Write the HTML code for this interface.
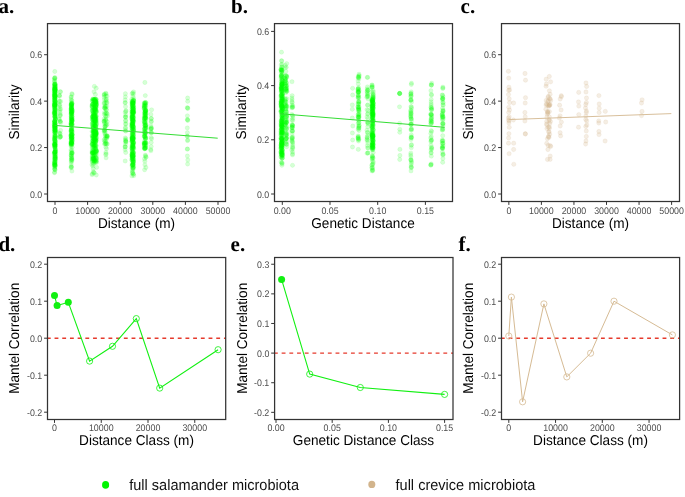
<!DOCTYPE html>
<html><head><meta charset="utf-8"><style>
html,body{margin:0;padding:0;background:#fff;overflow:hidden;}
svg{display:block;font-family:"Liberation Sans",sans-serif;filter:blur(0.35px);}
</style></head><body>
<svg width="685" height="497" viewBox="0 0 685 497" font-family="Liberation Sans, sans-serif" text-rendering="geometricPrecision"><rect width="685" height="497" fill="#fff"/>
<g fill="#00ff00" fill-opacity="0.16" stroke="#00ff00" stroke-opacity="0.16" stroke-width="0.5">
<circle cx="54.5" cy="79.9" r="2.15"/>
<circle cx="54.4" cy="81.9" r="2.15"/>
<circle cx="54.7" cy="81.2" r="2.15"/>
<circle cx="54.9" cy="78.3" r="2.15"/>
<circle cx="54.8" cy="78.2" r="2.15"/>
<circle cx="54.4" cy="78.4" r="2.15"/>
<circle cx="55.3" cy="119.2" r="2.15"/>
<circle cx="54.6" cy="94.3" r="2.15"/>
<circle cx="55.4" cy="136.1" r="2.15"/>
<circle cx="54.8" cy="131.9" r="2.15"/>
<circle cx="54.4" cy="165.0" r="2.15"/>
<circle cx="54.6" cy="155.3" r="2.15"/>
<circle cx="54.4" cy="96.0" r="2.15"/>
<circle cx="55.3" cy="109.6" r="2.15"/>
<circle cx="55.0" cy="99.0" r="2.15"/>
<circle cx="54.7" cy="137.0" r="2.15"/>
<circle cx="54.4" cy="129.5" r="2.15"/>
<circle cx="54.5" cy="88.9" r="2.15"/>
<circle cx="54.8" cy="140.5" r="2.15"/>
<circle cx="55.0" cy="110.1" r="2.15"/>
<circle cx="54.7" cy="121.6" r="2.15"/>
<circle cx="55.1" cy="149.9" r="2.15"/>
<circle cx="55.0" cy="104.3" r="2.15"/>
<circle cx="55.4" cy="127.6" r="2.15"/>
<circle cx="54.6" cy="144.5" r="2.15"/>
<circle cx="54.4" cy="165.4" r="2.15"/>
<circle cx="55.2" cy="118.7" r="2.15"/>
<circle cx="54.9" cy="96.6" r="2.15"/>
<circle cx="55.1" cy="87.3" r="2.15"/>
<circle cx="55.0" cy="147.5" r="2.15"/>
<circle cx="54.7" cy="156.7" r="2.15"/>
<circle cx="55.0" cy="141.7" r="2.15"/>
<circle cx="54.8" cy="132.1" r="2.15"/>
<circle cx="55.4" cy="153.7" r="2.15"/>
<circle cx="55.1" cy="123.4" r="2.15"/>
<circle cx="55.1" cy="89.0" r="2.15"/>
<circle cx="55.5" cy="137.7" r="2.15"/>
<circle cx="54.6" cy="152.2" r="2.15"/>
<circle cx="55.1" cy="116.0" r="2.15"/>
<circle cx="54.9" cy="85.9" r="2.15"/>
<circle cx="54.4" cy="97.9" r="2.15"/>
<circle cx="55.2" cy="88.9" r="2.15"/>
<circle cx="54.6" cy="94.7" r="2.15"/>
<circle cx="55.3" cy="116.4" r="2.15"/>
<circle cx="54.8" cy="90.7" r="2.15"/>
<circle cx="55.4" cy="129.6" r="2.15"/>
<circle cx="55.3" cy="152.0" r="2.15"/>
<circle cx="54.8" cy="107.1" r="2.15"/>
<circle cx="55.4" cy="113.8" r="2.15"/>
<circle cx="54.5" cy="163.5" r="2.15"/>
<circle cx="54.6" cy="98.6" r="2.15"/>
<circle cx="54.9" cy="103.4" r="2.15"/>
<circle cx="54.6" cy="132.9" r="2.15"/>
<circle cx="54.8" cy="84.3" r="2.15"/>
<circle cx="55.0" cy="114.6" r="2.15"/>
<circle cx="55.1" cy="163.1" r="2.15"/>
<circle cx="55.0" cy="126.8" r="2.15"/>
<circle cx="54.4" cy="140.1" r="2.15"/>
<circle cx="55.2" cy="158.7" r="2.15"/>
<circle cx="55.3" cy="156.6" r="2.15"/>
<circle cx="54.8" cy="116.6" r="2.15"/>
<circle cx="55.1" cy="92.6" r="2.15"/>
<circle cx="54.4" cy="89.2" r="2.15"/>
<circle cx="54.5" cy="101.3" r="2.15"/>
<circle cx="54.4" cy="112.2" r="2.15"/>
<circle cx="54.5" cy="84.0" r="2.15"/>
<circle cx="54.7" cy="92.4" r="2.15"/>
<circle cx="55.3" cy="86.1" r="2.15"/>
<circle cx="54.5" cy="135.0" r="2.15"/>
<circle cx="54.7" cy="104.9" r="2.15"/>
<circle cx="54.4" cy="114.2" r="2.15"/>
<circle cx="55.5" cy="154.5" r="2.15"/>
<circle cx="54.9" cy="122.7" r="2.15"/>
<circle cx="54.4" cy="91.1" r="2.15"/>
<circle cx="54.6" cy="112.4" r="2.15"/>
<circle cx="54.5" cy="152.8" r="2.15"/>
<circle cx="55.4" cy="85.9" r="2.15"/>
<circle cx="54.5" cy="127.8" r="2.15"/>
<circle cx="54.3" cy="129.1" r="2.15"/>
<circle cx="55.5" cy="127.8" r="2.15"/>
<circle cx="55.1" cy="155.7" r="2.15"/>
<circle cx="54.7" cy="105.7" r="2.15"/>
<circle cx="55.2" cy="97.9" r="2.15"/>
<circle cx="55.2" cy="128.2" r="2.15"/>
<circle cx="54.6" cy="111.4" r="2.15"/>
<circle cx="55.5" cy="151.4" r="2.15"/>
<circle cx="55.3" cy="154.8" r="2.15"/>
<circle cx="55.2" cy="151.9" r="2.15"/>
<circle cx="54.9" cy="102.8" r="2.15"/>
<circle cx="54.3" cy="113.5" r="2.15"/>
<circle cx="54.6" cy="86.3" r="2.15"/>
<circle cx="55.1" cy="105.5" r="2.15"/>
<circle cx="54.8" cy="163.4" r="2.15"/>
<circle cx="55.5" cy="161.8" r="2.15"/>
<circle cx="54.7" cy="163.3" r="2.15"/>
<circle cx="54.6" cy="102.3" r="2.15"/>
<circle cx="54.5" cy="100.3" r="2.15"/>
<circle cx="55.4" cy="135.8" r="2.15"/>
<circle cx="54.9" cy="153.8" r="2.15"/>
<circle cx="55.3" cy="138.2" r="2.15"/>
<circle cx="55.1" cy="91.0" r="2.15"/>
<circle cx="55.2" cy="159.5" r="2.15"/>
<circle cx="54.9" cy="146.3" r="2.15"/>
<circle cx="55.2" cy="98.8" r="2.15"/>
<circle cx="55.3" cy="111.6" r="2.15"/>
<circle cx="54.8" cy="164.6" r="2.15"/>
<circle cx="55.4" cy="117.3" r="2.15"/>
<circle cx="54.5" cy="144.2" r="2.15"/>
<circle cx="54.5" cy="94.5" r="2.15"/>
<circle cx="55.3" cy="159.1" r="2.15"/>
<circle cx="55.3" cy="96.1" r="2.15"/>
<circle cx="55.1" cy="165.4" r="2.15"/>
<circle cx="55.0" cy="113.1" r="2.15"/>
<circle cx="54.3" cy="94.9" r="2.15"/>
<circle cx="55.1" cy="164.6" r="2.15"/>
<circle cx="55.4" cy="127.7" r="2.15"/>
<circle cx="55.3" cy="120.0" r="2.15"/>
<circle cx="54.6" cy="152.6" r="2.15"/>
<circle cx="54.7" cy="104.9" r="2.15"/>
<circle cx="55.0" cy="104.0" r="2.15"/>
<circle cx="54.8" cy="105.5" r="2.15"/>
<circle cx="55.4" cy="94.9" r="2.15"/>
<circle cx="54.8" cy="113.4" r="2.15"/>
<circle cx="55.4" cy="132.4" r="2.15"/>
<circle cx="55.4" cy="118.9" r="2.15"/>
<circle cx="54.9" cy="125.6" r="2.15"/>
<circle cx="54.3" cy="127.5" r="2.15"/>
<circle cx="54.5" cy="120.5" r="2.15"/>
<circle cx="55.3" cy="84.3" r="2.15"/>
<circle cx="54.9" cy="98.3" r="2.15"/>
<circle cx="55.0" cy="144.2" r="2.15"/>
<circle cx="54.9" cy="111.1" r="2.15"/>
<circle cx="55.2" cy="130.1" r="2.15"/>
<circle cx="55.0" cy="92.8" r="2.15"/>
<circle cx="54.6" cy="104.6" r="2.15"/>
<circle cx="54.9" cy="148.1" r="2.15"/>
<circle cx="55.2" cy="130.6" r="2.15"/>
<circle cx="54.8" cy="159.7" r="2.15"/>
<circle cx="54.9" cy="134.8" r="2.15"/>
<circle cx="55.1" cy="126.5" r="2.15"/>
<circle cx="54.9" cy="121.5" r="2.15"/>
<circle cx="55.4" cy="123.7" r="2.15"/>
<circle cx="55.4" cy="142.0" r="2.15"/>
<circle cx="54.6" cy="162.2" r="2.15"/>
<circle cx="55.4" cy="130.4" r="2.15"/>
<circle cx="54.5" cy="153.7" r="2.15"/>
<circle cx="54.8" cy="94.1" r="2.15"/>
<circle cx="54.6" cy="90.0" r="2.15"/>
<circle cx="55.1" cy="90.1" r="2.15"/>
<circle cx="55.4" cy="149.1" r="2.15"/>
<circle cx="55.2" cy="96.8" r="2.15"/>
<circle cx="54.5" cy="138.8" r="2.15"/>
<circle cx="55.5" cy="157.3" r="2.15"/>
<circle cx="55.4" cy="102.2" r="2.15"/>
<circle cx="54.9" cy="117.1" r="2.15"/>
<circle cx="55.3" cy="166.2" r="2.15"/>
<circle cx="54.8" cy="97.4" r="2.15"/>
<circle cx="54.7" cy="126.8" r="2.15"/>
<circle cx="54.7" cy="100.2" r="2.15"/>
<circle cx="54.3" cy="143.9" r="2.15"/>
<circle cx="54.8" cy="130.0" r="2.15"/>
<circle cx="54.7" cy="85.5" r="2.15"/>
<circle cx="54.9" cy="135.8" r="2.15"/>
<circle cx="55.5" cy="89.3" r="2.15"/>
<circle cx="55.5" cy="149.4" r="2.15"/>
<circle cx="54.6" cy="92.7" r="2.15"/>
<circle cx="55.2" cy="87.3" r="2.15"/>
<circle cx="54.5" cy="106.4" r="2.15"/>
<circle cx="55.4" cy="119.0" r="2.15"/>
<circle cx="54.6" cy="152.0" r="2.15"/>
<circle cx="55.4" cy="96.4" r="2.15"/>
<circle cx="55.1" cy="131.4" r="2.15"/>
<circle cx="54.4" cy="91.4" r="2.15"/>
<circle cx="54.8" cy="141.1" r="2.15"/>
<circle cx="55.4" cy="90.0" r="2.15"/>
<circle cx="55.3" cy="136.7" r="2.15"/>
<circle cx="55.3" cy="91.0" r="2.15"/>
<circle cx="55.3" cy="89.5" r="2.15"/>
<circle cx="54.7" cy="121.7" r="2.15"/>
<circle cx="55.4" cy="129.9" r="2.15"/>
<circle cx="54.5" cy="106.2" r="2.15"/>
<circle cx="54.6" cy="127.7" r="2.15"/>
<circle cx="54.5" cy="93.1" r="2.15"/>
<circle cx="54.5" cy="88.2" r="2.15"/>
<circle cx="54.7" cy="109.9" r="2.15"/>
<circle cx="54.6" cy="147.0" r="2.15"/>
<circle cx="54.5" cy="125.5" r="2.15"/>
<circle cx="54.3" cy="112.8" r="2.15"/>
<circle cx="54.3" cy="104.8" r="2.15"/>
<circle cx="55.0" cy="144.8" r="2.15"/>
<circle cx="54.9" cy="99.7" r="2.15"/>
<circle cx="54.4" cy="161.6" r="2.15"/>
<circle cx="54.8" cy="152.0" r="2.15"/>
<circle cx="55.3" cy="125.1" r="2.15"/>
<circle cx="54.9" cy="116.6" r="2.15"/>
<circle cx="55.5" cy="141.1" r="2.15"/>
<circle cx="55.3" cy="112.4" r="2.15"/>
<circle cx="55.1" cy="142.7" r="2.15"/>
<circle cx="54.7" cy="117.6" r="2.15"/>
<circle cx="54.5" cy="88.5" r="2.15"/>
<circle cx="55.2" cy="89.9" r="2.15"/>
<circle cx="54.5" cy="105.2" r="2.15"/>
<circle cx="55.3" cy="91.0" r="2.15"/>
<circle cx="55.1" cy="156.3" r="2.15"/>
<circle cx="54.6" cy="107.4" r="2.15"/>
<circle cx="54.9" cy="108.3" r="2.15"/>
<circle cx="54.8" cy="97.1" r="2.15"/>
<circle cx="55.5" cy="105.8" r="2.15"/>
<circle cx="55.0" cy="164.7" r="2.15"/>
<circle cx="55.5" cy="104.3" r="2.15"/>
<circle cx="54.7" cy="109.7" r="2.15"/>
<circle cx="54.8" cy="84.1" r="2.15"/>
<circle cx="54.9" cy="123.4" r="2.15"/>
<circle cx="54.9" cy="100.7" r="2.15"/>
<circle cx="54.6" cy="84.4" r="2.15"/>
<circle cx="54.8" cy="91.4" r="2.15"/>
<circle cx="54.3" cy="87.5" r="2.15"/>
<circle cx="54.6" cy="109.3" r="2.15"/>
<circle cx="54.9" cy="132.6" r="2.15"/>
<circle cx="55.1" cy="146.3" r="2.15"/>
<circle cx="55.4" cy="143.4" r="2.15"/>
<circle cx="54.7" cy="116.3" r="2.15"/>
<circle cx="54.5" cy="165.7" r="2.15"/>
<circle cx="55.1" cy="144.1" r="2.15"/>
<circle cx="55.3" cy="87.6" r="2.15"/>
<circle cx="55.1" cy="158.0" r="2.15"/>
<circle cx="55.3" cy="144.9" r="2.15"/>
<circle cx="54.9" cy="95.6" r="2.15"/>
<circle cx="55.3" cy="125.9" r="2.15"/>
<circle cx="55.3" cy="150.8" r="2.15"/>
<circle cx="55.4" cy="132.5" r="2.15"/>
<circle cx="55.1" cy="140.7" r="2.15"/>
<circle cx="54.3" cy="103.1" r="2.15"/>
<circle cx="54.7" cy="95.0" r="2.15"/>
<circle cx="55.3" cy="92.7" r="2.15"/>
<circle cx="55.1" cy="130.4" r="2.15"/>
<circle cx="55.1" cy="136.0" r="2.15"/>
<circle cx="54.3" cy="124.6" r="2.15"/>
<circle cx="55.2" cy="150.2" r="2.15"/>
<circle cx="54.9" cy="125.7" r="2.15"/>
<circle cx="54.4" cy="138.7" r="2.15"/>
<circle cx="54.6" cy="145.2" r="2.15"/>
<circle cx="54.6" cy="90.2" r="2.15"/>
<circle cx="54.5" cy="144.5" r="2.15"/>
<circle cx="55.5" cy="145.4" r="2.15"/>
<circle cx="54.8" cy="125.0" r="2.15"/>
<circle cx="55.1" cy="123.8" r="2.15"/>
<circle cx="55.0" cy="147.7" r="2.15"/>
<circle cx="54.4" cy="137.3" r="2.15"/>
<circle cx="54.6" cy="96.2" r="2.15"/>
<circle cx="54.7" cy="145.7" r="2.15"/>
<circle cx="54.3" cy="131.1" r="2.15"/>
<circle cx="54.6" cy="89.0" r="2.15"/>
<circle cx="55.1" cy="139.8" r="2.15"/>
<circle cx="54.6" cy="140.1" r="2.15"/>
<circle cx="54.9" cy="126.9" r="2.15"/>
<circle cx="54.4" cy="122.7" r="2.15"/>
<circle cx="54.5" cy="158.2" r="2.15"/>
<circle cx="55.4" cy="165.2" r="2.15"/>
<circle cx="54.9" cy="85.5" r="2.15"/>
<circle cx="55.5" cy="152.1" r="2.15"/>
<circle cx="54.6" cy="121.3" r="2.15"/>
<circle cx="55.4" cy="101.4" r="2.15"/>
<circle cx="55.0" cy="101.5" r="2.15"/>
<circle cx="54.9" cy="95.8" r="2.15"/>
<circle cx="54.5" cy="163.1" r="2.15"/>
<circle cx="54.9" cy="152.1" r="2.15"/>
<circle cx="55.1" cy="157.6" r="2.15"/>
<circle cx="55.4" cy="103.2" r="2.15"/>
<circle cx="54.3" cy="124.3" r="2.15"/>
<circle cx="54.9" cy="84.3" r="2.15"/>
<circle cx="54.7" cy="121.4" r="2.15"/>
<circle cx="54.7" cy="95.7" r="2.15"/>
<circle cx="55.3" cy="110.2" r="2.15"/>
<circle cx="55.2" cy="84.1" r="2.15"/>
<circle cx="54.4" cy="153.6" r="2.15"/>
<circle cx="55.2" cy="160.9" r="2.15"/>
<circle cx="54.6" cy="158.8" r="2.15"/>
<circle cx="54.8" cy="114.9" r="2.15"/>
<circle cx="55.0" cy="166.9" r="2.15"/>
<circle cx="54.8" cy="113.9" r="2.15"/>
<circle cx="54.4" cy="106.8" r="2.15"/>
<circle cx="55.3" cy="92.4" r="2.15"/>
<circle cx="55.4" cy="107.7" r="2.15"/>
<circle cx="54.6" cy="104.7" r="2.15"/>
<circle cx="54.5" cy="126.4" r="2.15"/>
<circle cx="55.4" cy="115.0" r="2.15"/>
<circle cx="55.3" cy="157.4" r="2.15"/>
<circle cx="55.4" cy="136.4" r="2.15"/>
<circle cx="55.0" cy="162.1" r="2.15"/>
<circle cx="54.4" cy="143.7" r="2.15"/>
<circle cx="54.8" cy="144.8" r="2.15"/>
<circle cx="55.1" cy="146.5" r="2.15"/>
<circle cx="54.4" cy="107.8" r="2.15"/>
<circle cx="54.5" cy="160.9" r="2.15"/>
<circle cx="54.7" cy="123.2" r="2.15"/>
<circle cx="55.2" cy="108.7" r="2.15"/>
<circle cx="54.6" cy="165.0" r="2.15"/>
<circle cx="54.7" cy="138.4" r="2.15"/>
<circle cx="54.8" cy="130.3" r="2.15"/>
<circle cx="54.5" cy="97.9" r="2.15"/>
<circle cx="55.4" cy="101.3" r="2.15"/>
<circle cx="54.6" cy="125.3" r="2.15"/>
<circle cx="55.5" cy="159.2" r="2.15"/>
<circle cx="54.5" cy="121.3" r="2.15"/>
<circle cx="54.4" cy="100.0" r="2.15"/>
<circle cx="54.4" cy="112.4" r="2.15"/>
<circle cx="54.6" cy="103.8" r="2.15"/>
<circle cx="55.4" cy="131.3" r="2.15"/>
<circle cx="54.8" cy="146.2" r="2.15"/>
<circle cx="54.9" cy="169.5" r="2.15"/>
<circle cx="54.7" cy="169.3" r="2.15"/>
<circle cx="54.6" cy="167.4" r="2.15"/>
<circle cx="54.5" cy="172.8" r="2.15"/>
<circle cx="55.1" cy="170.0" r="2.15"/>
<circle cx="54.6" cy="172.2" r="2.15"/>
<circle cx="54.6" cy="168.6" r="2.15"/>
<circle cx="54.8" cy="71.5" r="2.15"/>
<circle cx="54.9" cy="77.5" r="2.15"/>
<circle cx="60.6" cy="136.7" r="2.15"/>
<circle cx="59.2" cy="132.8" r="2.15"/>
<circle cx="60.3" cy="91.6" r="2.15"/>
<circle cx="60.0" cy="133.9" r="2.15"/>
<circle cx="59.2" cy="118.8" r="2.15"/>
<circle cx="60.7" cy="109.2" r="2.15"/>
<circle cx="60.6" cy="130.5" r="2.15"/>
<circle cx="59.6" cy="137.6" r="2.15"/>
<circle cx="59.4" cy="95.3" r="2.15"/>
<circle cx="60.3" cy="115.6" r="2.15"/>
<circle cx="60.4" cy="136.1" r="2.15"/>
<circle cx="60.4" cy="121.7" r="2.15"/>
<circle cx="60.1" cy="112.4" r="2.15"/>
<circle cx="60.5" cy="91.9" r="2.15"/>
<circle cx="60.7" cy="101.4" r="2.15"/>
<circle cx="59.7" cy="121.6" r="2.15"/>
<circle cx="59.6" cy="96.3" r="2.15"/>
<circle cx="60.3" cy="121.2" r="2.15"/>
<circle cx="59.3" cy="95.5" r="2.15"/>
<circle cx="60.1" cy="115.7" r="2.15"/>
<circle cx="59.6" cy="109.0" r="2.15"/>
<circle cx="59.2" cy="119.5" r="2.15"/>
<circle cx="59.9" cy="104.8" r="2.15"/>
<circle cx="60.2" cy="137.0" r="2.15"/>
<circle cx="60.0" cy="133.3" r="2.15"/>
<circle cx="59.6" cy="101.5" r="2.15"/>
<circle cx="60.3" cy="137.1" r="2.15"/>
<circle cx="59.2" cy="105.1" r="2.15"/>
<circle cx="60.3" cy="114.4" r="2.15"/>
<circle cx="59.6" cy="110.6" r="2.15"/>
<circle cx="60.7" cy="122.7" r="2.15"/>
<circle cx="59.3" cy="101.1" r="2.15"/>
<circle cx="59.9" cy="106.6" r="2.15"/>
<circle cx="71.2" cy="99.2" r="2.15"/>
<circle cx="71.9" cy="100.6" r="2.15"/>
<circle cx="71.2" cy="97.1" r="2.15"/>
<circle cx="71.4" cy="102.6" r="2.15"/>
<circle cx="71.3" cy="100.8" r="2.15"/>
<circle cx="71.9" cy="93.7" r="2.15"/>
<circle cx="72.1" cy="94.5" r="2.15"/>
<circle cx="71.2" cy="96.9" r="2.15"/>
<circle cx="71.5" cy="112.6" r="2.15"/>
<circle cx="72.1" cy="131.6" r="2.15"/>
<circle cx="71.5" cy="109.3" r="2.15"/>
<circle cx="72.2" cy="112.2" r="2.15"/>
<circle cx="71.1" cy="109.1" r="2.15"/>
<circle cx="71.5" cy="105.6" r="2.15"/>
<circle cx="72.1" cy="141.6" r="2.15"/>
<circle cx="72.2" cy="134.5" r="2.15"/>
<circle cx="71.4" cy="143.1" r="2.15"/>
<circle cx="72.1" cy="111.0" r="2.15"/>
<circle cx="71.0" cy="135.1" r="2.15"/>
<circle cx="71.5" cy="131.6" r="2.15"/>
<circle cx="71.4" cy="119.1" r="2.15"/>
<circle cx="71.0" cy="110.3" r="2.15"/>
<circle cx="71.4" cy="115.0" r="2.15"/>
<circle cx="71.1" cy="144.1" r="2.15"/>
<circle cx="71.2" cy="144.5" r="2.15"/>
<circle cx="72.0" cy="118.3" r="2.15"/>
<circle cx="71.5" cy="138.3" r="2.15"/>
<circle cx="71.6" cy="105.1" r="2.15"/>
<circle cx="72.1" cy="119.0" r="2.15"/>
<circle cx="71.4" cy="111.3" r="2.15"/>
<circle cx="71.0" cy="141.6" r="2.15"/>
<circle cx="72.0" cy="120.7" r="2.15"/>
<circle cx="71.0" cy="136.0" r="2.15"/>
<circle cx="71.1" cy="104.5" r="2.15"/>
<circle cx="71.3" cy="142.6" r="2.15"/>
<circle cx="72.1" cy="135.1" r="2.15"/>
<circle cx="71.3" cy="117.6" r="2.15"/>
<circle cx="71.7" cy="144.2" r="2.15"/>
<circle cx="71.9" cy="114.3" r="2.15"/>
<circle cx="71.3" cy="116.6" r="2.15"/>
<circle cx="71.9" cy="103.2" r="2.15"/>
<circle cx="71.8" cy="142.4" r="2.15"/>
<circle cx="71.0" cy="143.6" r="2.15"/>
<circle cx="71.6" cy="113.1" r="2.15"/>
<circle cx="72.1" cy="144.1" r="2.15"/>
<circle cx="71.3" cy="119.6" r="2.15"/>
<circle cx="71.6" cy="121.5" r="2.15"/>
<circle cx="71.2" cy="142.9" r="2.15"/>
<circle cx="71.9" cy="137.5" r="2.15"/>
<circle cx="71.9" cy="138.4" r="2.15"/>
<circle cx="71.4" cy="129.1" r="2.15"/>
<circle cx="71.4" cy="116.7" r="2.15"/>
<circle cx="71.1" cy="136.6" r="2.15"/>
<circle cx="71.9" cy="111.5" r="2.15"/>
<circle cx="71.1" cy="113.6" r="2.15"/>
<circle cx="71.7" cy="104.5" r="2.15"/>
<circle cx="72.2" cy="117.0" r="2.15"/>
<circle cx="72.2" cy="141.0" r="2.15"/>
<circle cx="71.1" cy="114.4" r="2.15"/>
<circle cx="71.6" cy="107.1" r="2.15"/>
<circle cx="71.5" cy="133.5" r="2.15"/>
<circle cx="71.5" cy="113.1" r="2.15"/>
<circle cx="71.8" cy="129.7" r="2.15"/>
<circle cx="72.0" cy="135.2" r="2.15"/>
<circle cx="71.1" cy="131.6" r="2.15"/>
<circle cx="71.4" cy="139.2" r="2.15"/>
<circle cx="71.4" cy="127.4" r="2.15"/>
<circle cx="71.2" cy="134.7" r="2.15"/>
<circle cx="71.3" cy="113.6" r="2.15"/>
<circle cx="72.1" cy="109.6" r="2.15"/>
<circle cx="71.4" cy="127.9" r="2.15"/>
<circle cx="72.2" cy="120.0" r="2.15"/>
<circle cx="71.3" cy="124.8" r="2.15"/>
<circle cx="71.8" cy="137.8" r="2.15"/>
<circle cx="71.1" cy="145.6" r="2.15"/>
<circle cx="72.0" cy="123.4" r="2.15"/>
<circle cx="72.1" cy="139.1" r="2.15"/>
<circle cx="71.4" cy="104.7" r="2.15"/>
<circle cx="71.2" cy="108.1" r="2.15"/>
<circle cx="71.7" cy="144.8" r="2.15"/>
<circle cx="71.4" cy="143.0" r="2.15"/>
<circle cx="71.5" cy="140.2" r="2.15"/>
<circle cx="71.9" cy="114.2" r="2.15"/>
<circle cx="71.1" cy="143.7" r="2.15"/>
<circle cx="71.7" cy="128.6" r="2.15"/>
<circle cx="71.4" cy="112.4" r="2.15"/>
<circle cx="71.2" cy="109.1" r="2.15"/>
<circle cx="71.7" cy="114.0" r="2.15"/>
<circle cx="71.2" cy="131.0" r="2.15"/>
<circle cx="71.4" cy="103.5" r="2.15"/>
<circle cx="71.2" cy="132.2" r="2.15"/>
<circle cx="71.2" cy="116.4" r="2.15"/>
<circle cx="71.7" cy="137.2" r="2.15"/>
<circle cx="71.1" cy="105.7" r="2.15"/>
<circle cx="71.7" cy="120.0" r="2.15"/>
<circle cx="71.1" cy="130.5" r="2.15"/>
<circle cx="71.8" cy="110.0" r="2.15"/>
<circle cx="71.3" cy="120.6" r="2.15"/>
<circle cx="72.1" cy="116.2" r="2.15"/>
<circle cx="71.7" cy="116.4" r="2.15"/>
<circle cx="71.5" cy="118.4" r="2.15"/>
<circle cx="72.2" cy="140.2" r="2.15"/>
<circle cx="71.2" cy="118.6" r="2.15"/>
<circle cx="71.2" cy="134.3" r="2.15"/>
<circle cx="72.1" cy="103.3" r="2.15"/>
<circle cx="72.0" cy="121.2" r="2.15"/>
<circle cx="72.1" cy="120.5" r="2.15"/>
<circle cx="71.2" cy="122.8" r="2.15"/>
<circle cx="71.7" cy="103.6" r="2.15"/>
<circle cx="72.1" cy="130.5" r="2.15"/>
<circle cx="71.7" cy="106.8" r="2.15"/>
<circle cx="71.6" cy="118.9" r="2.15"/>
<circle cx="71.3" cy="109.3" r="2.15"/>
<circle cx="72.1" cy="125.4" r="2.15"/>
<circle cx="71.6" cy="107.7" r="2.15"/>
<circle cx="72.2" cy="137.6" r="2.15"/>
<circle cx="71.2" cy="111.5" r="2.15"/>
<circle cx="72.2" cy="143.6" r="2.15"/>
<circle cx="71.1" cy="123.8" r="2.15"/>
<circle cx="71.5" cy="142.8" r="2.15"/>
<circle cx="71.7" cy="141.9" r="2.15"/>
<circle cx="71.2" cy="138.5" r="2.15"/>
<circle cx="71.3" cy="136.8" r="2.15"/>
<circle cx="72.0" cy="120.4" r="2.15"/>
<circle cx="71.2" cy="138.7" r="2.15"/>
<circle cx="71.5" cy="112.4" r="2.15"/>
<circle cx="71.5" cy="125.3" r="2.15"/>
<circle cx="71.3" cy="108.3" r="2.15"/>
<circle cx="72.1" cy="134.2" r="2.15"/>
<circle cx="71.7" cy="104.8" r="2.15"/>
<circle cx="71.0" cy="135.6" r="2.15"/>
<circle cx="71.1" cy="139.0" r="2.15"/>
<circle cx="71.7" cy="128.8" r="2.15"/>
<circle cx="71.4" cy="130.0" r="2.15"/>
<circle cx="71.7" cy="121.1" r="2.15"/>
<circle cx="71.8" cy="121.3" r="2.15"/>
<circle cx="71.5" cy="122.2" r="2.15"/>
<circle cx="71.7" cy="104.0" r="2.15"/>
<circle cx="71.3" cy="124.0" r="2.15"/>
<circle cx="71.9" cy="135.8" r="2.15"/>
<circle cx="71.2" cy="122.7" r="2.15"/>
<circle cx="71.1" cy="123.3" r="2.15"/>
<circle cx="71.5" cy="108.5" r="2.15"/>
<circle cx="71.5" cy="106.9" r="2.15"/>
<circle cx="71.0" cy="124.9" r="2.15"/>
<circle cx="71.1" cy="130.4" r="2.15"/>
<circle cx="71.9" cy="134.5" r="2.15"/>
<circle cx="71.1" cy="125.0" r="2.15"/>
<circle cx="71.5" cy="124.7" r="2.15"/>
<circle cx="71.2" cy="143.9" r="2.15"/>
<circle cx="72.2" cy="139.9" r="2.15"/>
<circle cx="72.0" cy="134.5" r="2.15"/>
<circle cx="72.2" cy="111.3" r="2.15"/>
<circle cx="72.1" cy="124.2" r="2.15"/>
<circle cx="71.2" cy="142.4" r="2.15"/>
<circle cx="72.1" cy="136.9" r="2.15"/>
<circle cx="71.4" cy="105.8" r="2.15"/>
<circle cx="71.2" cy="135.5" r="2.15"/>
<circle cx="71.3" cy="141.6" r="2.15"/>
<circle cx="71.2" cy="138.1" r="2.15"/>
<circle cx="72.1" cy="124.6" r="2.15"/>
<circle cx="71.3" cy="112.0" r="2.15"/>
<circle cx="71.4" cy="124.8" r="2.15"/>
<circle cx="71.2" cy="104.6" r="2.15"/>
<circle cx="72.1" cy="109.9" r="2.15"/>
<circle cx="72.1" cy="132.2" r="2.15"/>
<circle cx="71.9" cy="110.3" r="2.15"/>
<circle cx="71.6" cy="107.9" r="2.15"/>
<circle cx="71.4" cy="130.4" r="2.15"/>
<circle cx="71.7" cy="156.5" r="2.15"/>
<circle cx="72.1" cy="153.0" r="2.15"/>
<circle cx="72.2" cy="147.3" r="2.15"/>
<circle cx="71.5" cy="153.6" r="2.15"/>
<circle cx="71.3" cy="155.6" r="2.15"/>
<circle cx="71.7" cy="157.9" r="2.15"/>
<circle cx="71.9" cy="150.3" r="2.15"/>
<circle cx="71.2" cy="151.3" r="2.15"/>
<circle cx="71.1" cy="154.9" r="2.15"/>
<circle cx="71.3" cy="155.8" r="2.15"/>
<circle cx="72.2" cy="153.7" r="2.15"/>
<circle cx="71.8" cy="153.0" r="2.15"/>
<circle cx="71.0" cy="149.8" r="2.15"/>
<circle cx="71.2" cy="146.4" r="2.15"/>
<circle cx="71.5" cy="153.4" r="2.15"/>
<circle cx="72.1" cy="152.2" r="2.15"/>
<circle cx="71.3" cy="160.0" r="2.15"/>
<circle cx="71.0" cy="167.8" r="2.15"/>
<circle cx="71.4" cy="158.0" r="2.15"/>
<circle cx="71.4" cy="159.6" r="2.15"/>
<circle cx="71.7" cy="161.4" r="2.15"/>
<circle cx="71.2" cy="166.8" r="2.15"/>
<circle cx="71.6" cy="167.4" r="2.15"/>
<circle cx="72.1" cy="160.0" r="2.15"/>
<circle cx="71.2" cy="161.7" r="2.15"/>
<circle cx="71.8" cy="159.4" r="2.15"/>
<circle cx="71.9" cy="171.1" r="2.15"/>
<circle cx="71.3" cy="164.0" r="2.15"/>
<circle cx="71.8" cy="158.2" r="2.15"/>
<circle cx="71.4" cy="166.4" r="2.15"/>
<circle cx="94.0" cy="91.8" r="2.15"/>
<circle cx="95.4" cy="94.4" r="2.15"/>
<circle cx="96.2" cy="88.2" r="2.15"/>
<circle cx="94.4" cy="86.4" r="2.15"/>
<circle cx="93.1" cy="119.7" r="2.15"/>
<circle cx="95.6" cy="102.0" r="2.15"/>
<circle cx="94.5" cy="99.6" r="2.15"/>
<circle cx="92.7" cy="147.0" r="2.15"/>
<circle cx="94.8" cy="109.2" r="2.15"/>
<circle cx="95.0" cy="124.9" r="2.15"/>
<circle cx="92.8" cy="140.5" r="2.15"/>
<circle cx="93.4" cy="114.8" r="2.15"/>
<circle cx="96.1" cy="101.5" r="2.15"/>
<circle cx="95.3" cy="138.9" r="2.15"/>
<circle cx="95.9" cy="99.3" r="2.15"/>
<circle cx="94.1" cy="137.0" r="2.15"/>
<circle cx="94.1" cy="136.8" r="2.15"/>
<circle cx="92.5" cy="110.5" r="2.15"/>
<circle cx="92.2" cy="110.8" r="2.15"/>
<circle cx="95.4" cy="116.1" r="2.15"/>
<circle cx="95.9" cy="134.5" r="2.15"/>
<circle cx="93.2" cy="135.3" r="2.15"/>
<circle cx="94.0" cy="127.2" r="2.15"/>
<circle cx="94.4" cy="139.2" r="2.15"/>
<circle cx="95.0" cy="112.5" r="2.15"/>
<circle cx="93.0" cy="148.2" r="2.15"/>
<circle cx="92.1" cy="143.9" r="2.15"/>
<circle cx="93.1" cy="112.3" r="2.15"/>
<circle cx="96.3" cy="136.9" r="2.15"/>
<circle cx="93.5" cy="137.1" r="2.15"/>
<circle cx="93.5" cy="143.9" r="2.15"/>
<circle cx="96.2" cy="111.2" r="2.15"/>
<circle cx="95.2" cy="131.2" r="2.15"/>
<circle cx="96.5" cy="132.9" r="2.15"/>
<circle cx="95.9" cy="122.9" r="2.15"/>
<circle cx="95.9" cy="134.6" r="2.15"/>
<circle cx="95.3" cy="121.3" r="2.15"/>
<circle cx="93.4" cy="128.1" r="2.15"/>
<circle cx="94.9" cy="109.8" r="2.15"/>
<circle cx="96.2" cy="103.0" r="2.15"/>
<circle cx="92.1" cy="106.4" r="2.15"/>
<circle cx="96.3" cy="104.4" r="2.15"/>
<circle cx="92.7" cy="116.6" r="2.15"/>
<circle cx="92.2" cy="100.5" r="2.15"/>
<circle cx="94.9" cy="134.3" r="2.15"/>
<circle cx="95.4" cy="134.5" r="2.15"/>
<circle cx="94.7" cy="102.4" r="2.15"/>
<circle cx="95.8" cy="117.5" r="2.15"/>
<circle cx="96.1" cy="140.8" r="2.15"/>
<circle cx="96.0" cy="102.4" r="2.15"/>
<circle cx="96.3" cy="145.6" r="2.15"/>
<circle cx="92.9" cy="104.5" r="2.15"/>
<circle cx="92.2" cy="104.7" r="2.15"/>
<circle cx="95.7" cy="142.2" r="2.15"/>
<circle cx="95.8" cy="131.3" r="2.15"/>
<circle cx="93.3" cy="131.2" r="2.15"/>
<circle cx="92.5" cy="104.1" r="2.15"/>
<circle cx="92.9" cy="137.6" r="2.15"/>
<circle cx="93.9" cy="115.3" r="2.15"/>
<circle cx="93.2" cy="100.1" r="2.15"/>
<circle cx="95.3" cy="113.4" r="2.15"/>
<circle cx="93.5" cy="117.8" r="2.15"/>
<circle cx="94.3" cy="148.2" r="2.15"/>
<circle cx="94.8" cy="142.4" r="2.15"/>
<circle cx="93.9" cy="100.6" r="2.15"/>
<circle cx="95.6" cy="121.3" r="2.15"/>
<circle cx="95.2" cy="116.7" r="2.15"/>
<circle cx="93.0" cy="126.4" r="2.15"/>
<circle cx="92.4" cy="143.0" r="2.15"/>
<circle cx="92.8" cy="140.8" r="2.15"/>
<circle cx="92.9" cy="99.1" r="2.15"/>
<circle cx="96.5" cy="137.9" r="2.15"/>
<circle cx="94.3" cy="99.2" r="2.15"/>
<circle cx="95.7" cy="124.1" r="2.15"/>
<circle cx="94.3" cy="108.4" r="2.15"/>
<circle cx="95.8" cy="116.7" r="2.15"/>
<circle cx="96.3" cy="112.3" r="2.15"/>
<circle cx="93.0" cy="113.5" r="2.15"/>
<circle cx="94.3" cy="134.7" r="2.15"/>
<circle cx="94.9" cy="104.6" r="2.15"/>
<circle cx="95.6" cy="103.1" r="2.15"/>
<circle cx="95.6" cy="134.6" r="2.15"/>
<circle cx="93.6" cy="131.0" r="2.15"/>
<circle cx="93.8" cy="119.5" r="2.15"/>
<circle cx="92.4" cy="144.4" r="2.15"/>
<circle cx="92.1" cy="144.3" r="2.15"/>
<circle cx="93.2" cy="109.5" r="2.15"/>
<circle cx="94.3" cy="145.0" r="2.15"/>
<circle cx="96.1" cy="118.3" r="2.15"/>
<circle cx="94.1" cy="110.9" r="2.15"/>
<circle cx="95.5" cy="126.1" r="2.15"/>
<circle cx="95.0" cy="137.4" r="2.15"/>
<circle cx="93.5" cy="116.8" r="2.15"/>
<circle cx="95.9" cy="106.9" r="2.15"/>
<circle cx="95.4" cy="132.8" r="2.15"/>
<circle cx="94.0" cy="107.6" r="2.15"/>
<circle cx="94.7" cy="138.4" r="2.15"/>
<circle cx="94.1" cy="105.4" r="2.15"/>
<circle cx="93.1" cy="144.1" r="2.15"/>
<circle cx="93.4" cy="108.8" r="2.15"/>
<circle cx="95.9" cy="134.9" r="2.15"/>
<circle cx="92.7" cy="106.9" r="2.15"/>
<circle cx="93.5" cy="111.6" r="2.15"/>
<circle cx="92.7" cy="125.6" r="2.15"/>
<circle cx="92.9" cy="115.7" r="2.15"/>
<circle cx="95.4" cy="148.7" r="2.15"/>
<circle cx="96.4" cy="104.2" r="2.15"/>
<circle cx="93.8" cy="104.2" r="2.15"/>
<circle cx="95.7" cy="149.2" r="2.15"/>
<circle cx="94.0" cy="136.4" r="2.15"/>
<circle cx="94.9" cy="109.0" r="2.15"/>
<circle cx="92.9" cy="104.5" r="2.15"/>
<circle cx="92.2" cy="118.8" r="2.15"/>
<circle cx="95.6" cy="119.4" r="2.15"/>
<circle cx="94.3" cy="134.4" r="2.15"/>
<circle cx="94.1" cy="131.3" r="2.15"/>
<circle cx="94.8" cy="106.2" r="2.15"/>
<circle cx="95.4" cy="119.6" r="2.15"/>
<circle cx="94.0" cy="145.3" r="2.15"/>
<circle cx="95.4" cy="128.3" r="2.15"/>
<circle cx="93.1" cy="120.5" r="2.15"/>
<circle cx="96.0" cy="135.8" r="2.15"/>
<circle cx="95.2" cy="138.5" r="2.15"/>
<circle cx="95.1" cy="142.5" r="2.15"/>
<circle cx="94.1" cy="131.7" r="2.15"/>
<circle cx="94.9" cy="115.0" r="2.15"/>
<circle cx="93.9" cy="104.0" r="2.15"/>
<circle cx="95.3" cy="138.9" r="2.15"/>
<circle cx="93.2" cy="131.1" r="2.15"/>
<circle cx="94.1" cy="120.6" r="2.15"/>
<circle cx="93.9" cy="130.7" r="2.15"/>
<circle cx="96.3" cy="133.4" r="2.15"/>
<circle cx="95.0" cy="108.3" r="2.15"/>
<circle cx="93.8" cy="138.7" r="2.15"/>
<circle cx="96.5" cy="124.0" r="2.15"/>
<circle cx="94.5" cy="100.9" r="2.15"/>
<circle cx="95.6" cy="107.2" r="2.15"/>
<circle cx="94.4" cy="147.0" r="2.15"/>
<circle cx="94.6" cy="104.2" r="2.15"/>
<circle cx="95.3" cy="126.6" r="2.15"/>
<circle cx="94.9" cy="125.1" r="2.15"/>
<circle cx="94.4" cy="141.3" r="2.15"/>
<circle cx="96.4" cy="119.9" r="2.15"/>
<circle cx="95.1" cy="109.7" r="2.15"/>
<circle cx="95.5" cy="119.0" r="2.15"/>
<circle cx="96.5" cy="105.2" r="2.15"/>
<circle cx="92.3" cy="117.1" r="2.15"/>
<circle cx="93.8" cy="113.0" r="2.15"/>
<circle cx="93.9" cy="99.7" r="2.15"/>
<circle cx="95.2" cy="120.4" r="2.15"/>
<circle cx="93.2" cy="117.0" r="2.15"/>
<circle cx="95.4" cy="110.4" r="2.15"/>
<circle cx="94.4" cy="146.9" r="2.15"/>
<circle cx="95.7" cy="110.2" r="2.15"/>
<circle cx="93.0" cy="119.0" r="2.15"/>
<circle cx="95.6" cy="105.6" r="2.15"/>
<circle cx="94.9" cy="140.3" r="2.15"/>
<circle cx="94.6" cy="122.9" r="2.15"/>
<circle cx="96.4" cy="110.5" r="2.15"/>
<circle cx="94.9" cy="117.0" r="2.15"/>
<circle cx="95.8" cy="140.8" r="2.15"/>
<circle cx="93.4" cy="122.9" r="2.15"/>
<circle cx="92.6" cy="127.0" r="2.15"/>
<circle cx="93.6" cy="141.5" r="2.15"/>
<circle cx="93.2" cy="142.4" r="2.15"/>
<circle cx="93.2" cy="118.2" r="2.15"/>
<circle cx="92.9" cy="120.7" r="2.15"/>
<circle cx="95.3" cy="99.1" r="2.15"/>
<circle cx="93.1" cy="113.3" r="2.15"/>
<circle cx="94.2" cy="114.4" r="2.15"/>
<circle cx="94.9" cy="120.9" r="2.15"/>
<circle cx="93.7" cy="132.6" r="2.15"/>
<circle cx="95.9" cy="146.4" r="2.15"/>
<circle cx="95.8" cy="101.9" r="2.15"/>
<circle cx="95.6" cy="145.2" r="2.15"/>
<circle cx="95.8" cy="106.2" r="2.15"/>
<circle cx="92.1" cy="131.3" r="2.15"/>
<circle cx="96.4" cy="99.6" r="2.15"/>
<circle cx="93.2" cy="132.5" r="2.15"/>
<circle cx="92.7" cy="104.2" r="2.15"/>
<circle cx="95.6" cy="110.9" r="2.15"/>
<circle cx="92.7" cy="116.7" r="2.15"/>
<circle cx="95.6" cy="145.1" r="2.15"/>
<circle cx="96.1" cy="107.6" r="2.15"/>
<circle cx="95.6" cy="130.0" r="2.15"/>
<circle cx="96.1" cy="133.1" r="2.15"/>
<circle cx="95.9" cy="139.2" r="2.15"/>
<circle cx="95.2" cy="109.1" r="2.15"/>
<circle cx="95.4" cy="126.1" r="2.15"/>
<circle cx="96.1" cy="121.4" r="2.15"/>
<circle cx="93.2" cy="127.3" r="2.15"/>
<circle cx="92.6" cy="110.9" r="2.15"/>
<circle cx="92.3" cy="124.1" r="2.15"/>
<circle cx="92.7" cy="122.8" r="2.15"/>
<circle cx="94.3" cy="124.1" r="2.15"/>
<circle cx="96.0" cy="126.5" r="2.15"/>
<circle cx="95.9" cy="99.3" r="2.15"/>
<circle cx="94.6" cy="122.9" r="2.15"/>
<circle cx="95.9" cy="132.9" r="2.15"/>
<circle cx="93.9" cy="118.1" r="2.15"/>
<circle cx="92.3" cy="148.0" r="2.15"/>
<circle cx="94.9" cy="131.5" r="2.15"/>
<circle cx="94.8" cy="100.5" r="2.15"/>
<circle cx="96.3" cy="133.8" r="2.15"/>
<circle cx="96.5" cy="115.9" r="2.15"/>
<circle cx="94.2" cy="125.0" r="2.15"/>
<circle cx="92.2" cy="144.8" r="2.15"/>
<circle cx="94.9" cy="135.6" r="2.15"/>
<circle cx="96.0" cy="116.3" r="2.15"/>
<circle cx="94.2" cy="117.7" r="2.15"/>
<circle cx="95.5" cy="125.8" r="2.15"/>
<circle cx="94.0" cy="109.7" r="2.15"/>
<circle cx="94.5" cy="120.5" r="2.15"/>
<circle cx="93.3" cy="141.2" r="2.15"/>
<circle cx="93.9" cy="141.2" r="2.15"/>
<circle cx="93.2" cy="124.7" r="2.15"/>
<circle cx="96.5" cy="124.8" r="2.15"/>
<circle cx="95.6" cy="132.4" r="2.15"/>
<circle cx="93.5" cy="115.9" r="2.15"/>
<circle cx="94.7" cy="114.3" r="2.15"/>
<circle cx="95.6" cy="131.4" r="2.15"/>
<circle cx="95.3" cy="101.0" r="2.15"/>
<circle cx="94.5" cy="144.2" r="2.15"/>
<circle cx="93.4" cy="101.5" r="2.15"/>
<circle cx="92.9" cy="99.3" r="2.15"/>
<circle cx="94.8" cy="146.0" r="2.15"/>
<circle cx="95.6" cy="132.6" r="2.15"/>
<circle cx="94.8" cy="145.4" r="2.15"/>
<circle cx="94.9" cy="130.5" r="2.15"/>
<circle cx="94.7" cy="134.5" r="2.15"/>
<circle cx="93.0" cy="133.7" r="2.15"/>
<circle cx="94.1" cy="133.0" r="2.15"/>
<circle cx="92.5" cy="137.9" r="2.15"/>
<circle cx="92.2" cy="108.2" r="2.15"/>
<circle cx="96.2" cy="138.5" r="2.15"/>
<circle cx="93.7" cy="132.4" r="2.15"/>
<circle cx="95.6" cy="141.0" r="2.15"/>
<circle cx="93.2" cy="127.7" r="2.15"/>
<circle cx="93.9" cy="114.4" r="2.15"/>
<circle cx="94.0" cy="115.2" r="2.15"/>
<circle cx="96.3" cy="131.7" r="2.15"/>
<circle cx="94.6" cy="101.8" r="2.15"/>
<circle cx="92.5" cy="101.0" r="2.15"/>
<circle cx="94.6" cy="140.3" r="2.15"/>
<circle cx="94.1" cy="145.9" r="2.15"/>
<circle cx="93.8" cy="99.7" r="2.15"/>
<circle cx="96.3" cy="129.2" r="2.15"/>
<circle cx="94.2" cy="149.0" r="2.15"/>
<circle cx="92.5" cy="120.0" r="2.15"/>
<circle cx="93.0" cy="131.9" r="2.15"/>
<circle cx="92.1" cy="106.7" r="2.15"/>
<circle cx="95.1" cy="99.2" r="2.15"/>
<circle cx="96.4" cy="105.2" r="2.15"/>
<circle cx="96.0" cy="103.5" r="2.15"/>
<circle cx="92.1" cy="105.6" r="2.15"/>
<circle cx="93.1" cy="135.7" r="2.15"/>
<circle cx="92.9" cy="136.4" r="2.15"/>
<circle cx="95.6" cy="101.6" r="2.15"/>
<circle cx="95.9" cy="135.4" r="2.15"/>
<circle cx="92.4" cy="136.2" r="2.15"/>
<circle cx="95.3" cy="131.1" r="2.15"/>
<circle cx="96.3" cy="122.5" r="2.15"/>
<circle cx="96.4" cy="112.0" r="2.15"/>
<circle cx="92.1" cy="135.6" r="2.15"/>
<circle cx="95.0" cy="99.8" r="2.15"/>
<circle cx="92.4" cy="140.7" r="2.15"/>
<circle cx="95.4" cy="114.9" r="2.15"/>
<circle cx="96.0" cy="107.5" r="2.15"/>
<circle cx="92.3" cy="123.8" r="2.15"/>
<circle cx="94.6" cy="117.7" r="2.15"/>
<circle cx="95.1" cy="121.4" r="2.15"/>
<circle cx="95.7" cy="106.4" r="2.15"/>
<circle cx="95.0" cy="117.5" r="2.15"/>
<circle cx="93.9" cy="131.1" r="2.15"/>
<circle cx="95.6" cy="118.7" r="2.15"/>
<circle cx="95.6" cy="147.2" r="2.15"/>
<circle cx="93.3" cy="127.9" r="2.15"/>
<circle cx="96.5" cy="102.1" r="2.15"/>
<circle cx="95.8" cy="134.9" r="2.15"/>
<circle cx="94.8" cy="115.9" r="2.15"/>
<circle cx="95.8" cy="148.8" r="2.15"/>
<circle cx="93.4" cy="129.7" r="2.15"/>
<circle cx="96.1" cy="120.9" r="2.15"/>
<circle cx="95.2" cy="118.2" r="2.15"/>
<circle cx="96.1" cy="129.7" r="2.15"/>
<circle cx="93.3" cy="140.2" r="2.15"/>
<circle cx="93.2" cy="99.1" r="2.15"/>
<circle cx="94.7" cy="120.5" r="2.15"/>
<circle cx="96.1" cy="140.6" r="2.15"/>
<circle cx="95.8" cy="101.2" r="2.15"/>
<circle cx="96.0" cy="140.4" r="2.15"/>
<circle cx="93.3" cy="128.2" r="2.15"/>
<circle cx="95.7" cy="142.4" r="2.15"/>
<circle cx="96.2" cy="133.9" r="2.15"/>
<circle cx="92.4" cy="116.7" r="2.15"/>
<circle cx="95.7" cy="127.2" r="2.15"/>
<circle cx="95.5" cy="109.2" r="2.15"/>
<circle cx="93.1" cy="146.5" r="2.15"/>
<circle cx="95.1" cy="130.0" r="2.15"/>
<circle cx="93.0" cy="122.7" r="2.15"/>
<circle cx="95.5" cy="112.0" r="2.15"/>
<circle cx="94.1" cy="139.4" r="2.15"/>
<circle cx="95.7" cy="103.5" r="2.15"/>
<circle cx="93.1" cy="138.4" r="2.15"/>
<circle cx="96.1" cy="128.6" r="2.15"/>
<circle cx="94.4" cy="161.5" r="2.15"/>
<circle cx="94.7" cy="156.2" r="2.15"/>
<circle cx="92.9" cy="152.5" r="2.15"/>
<circle cx="95.2" cy="152.3" r="2.15"/>
<circle cx="94.6" cy="154.7" r="2.15"/>
<circle cx="94.4" cy="155.2" r="2.15"/>
<circle cx="92.2" cy="151.9" r="2.15"/>
<circle cx="93.7" cy="163.0" r="2.15"/>
<circle cx="94.9" cy="151.4" r="2.15"/>
<circle cx="92.7" cy="160.2" r="2.15"/>
<circle cx="93.6" cy="157.8" r="2.15"/>
<circle cx="92.1" cy="156.8" r="2.15"/>
<circle cx="96.6" cy="150.4" r="2.15"/>
<circle cx="94.2" cy="161.3" r="2.15"/>
<circle cx="93.2" cy="157.4" r="2.15"/>
<circle cx="94.0" cy="160.1" r="2.15"/>
<circle cx="95.5" cy="162.3" r="2.15"/>
<circle cx="96.4" cy="160.6" r="2.15"/>
<circle cx="92.2" cy="153.3" r="2.15"/>
<circle cx="92.8" cy="152.6" r="2.15"/>
<circle cx="92.2" cy="151.1" r="2.15"/>
<circle cx="96.0" cy="157.2" r="2.15"/>
<circle cx="96.4" cy="156.0" r="2.15"/>
<circle cx="92.3" cy="161.8" r="2.15"/>
<circle cx="93.8" cy="157.8" r="2.15"/>
<circle cx="96.4" cy="151.6" r="2.15"/>
<circle cx="94.6" cy="153.3" r="2.15"/>
<circle cx="96.4" cy="158.3" r="2.15"/>
<circle cx="93.8" cy="158.7" r="2.15"/>
<circle cx="92.7" cy="155.8" r="2.15"/>
<circle cx="96.6" cy="162.6" r="2.15"/>
<circle cx="92.2" cy="152.9" r="2.15"/>
<circle cx="93.6" cy="153.3" r="2.15"/>
<circle cx="96.2" cy="161.7" r="2.15"/>
<circle cx="92.2" cy="160.9" r="2.15"/>
<circle cx="95.3" cy="160.2" r="2.15"/>
<circle cx="96.5" cy="158.4" r="2.15"/>
<circle cx="92.7" cy="150.7" r="2.15"/>
<circle cx="96.3" cy="159.8" r="2.15"/>
<circle cx="93.4" cy="158.8" r="2.15"/>
<circle cx="95.5" cy="157.7" r="2.15"/>
<circle cx="93.5" cy="151.4" r="2.15"/>
<circle cx="92.6" cy="153.3" r="2.15"/>
<circle cx="92.8" cy="156.3" r="2.15"/>
<circle cx="92.7" cy="153.1" r="2.15"/>
<circle cx="92.1" cy="158.8" r="2.15"/>
<circle cx="92.9" cy="159.3" r="2.15"/>
<circle cx="96.3" cy="150.5" r="2.15"/>
<circle cx="96.3" cy="152.9" r="2.15"/>
<circle cx="96.1" cy="161.3" r="2.15"/>
<circle cx="94.1" cy="151.8" r="2.15"/>
<circle cx="96.3" cy="151.3" r="2.15"/>
<circle cx="94.9" cy="160.9" r="2.15"/>
<circle cx="93.6" cy="155.9" r="2.15"/>
<circle cx="94.2" cy="160.7" r="2.15"/>
<circle cx="92.7" cy="158.2" r="2.15"/>
<circle cx="92.3" cy="152.9" r="2.15"/>
<circle cx="94.5" cy="159.3" r="2.15"/>
<circle cx="96.0" cy="151.9" r="2.15"/>
<circle cx="93.9" cy="153.5" r="2.15"/>
<circle cx="93.2" cy="152.0" r="2.15"/>
<circle cx="93.5" cy="160.9" r="2.15"/>
<circle cx="94.3" cy="152.2" r="2.15"/>
<circle cx="96.2" cy="154.1" r="2.15"/>
<circle cx="96.5" cy="151.5" r="2.15"/>
<circle cx="96.1" cy="150.7" r="2.15"/>
<circle cx="93.0" cy="158.7" r="2.15"/>
<circle cx="93.3" cy="168.7" r="2.15"/>
<circle cx="92.9" cy="166.1" r="2.15"/>
<circle cx="96.6" cy="167.4" r="2.15"/>
<circle cx="96.3" cy="175.0" r="2.15"/>
<circle cx="93.3" cy="164.2" r="2.15"/>
<circle cx="92.3" cy="173.8" r="2.15"/>
<circle cx="93.4" cy="171.7" r="2.15"/>
<circle cx="92.1" cy="174.7" r="2.15"/>
<circle cx="93.6" cy="172.7" r="2.15"/>
<circle cx="92.0" cy="164.7" r="2.15"/>
<circle cx="94.4" cy="173.0" r="2.15"/>
<circle cx="105.5" cy="102.8" r="2.15"/>
<circle cx="104.7" cy="141.3" r="2.15"/>
<circle cx="104.4" cy="123.3" r="2.15"/>
<circle cx="106.7" cy="102.5" r="2.15"/>
<circle cx="104.6" cy="130.7" r="2.15"/>
<circle cx="104.2" cy="97.2" r="2.15"/>
<circle cx="105.7" cy="125.3" r="2.15"/>
<circle cx="104.6" cy="107.5" r="2.15"/>
<circle cx="106.4" cy="125.5" r="2.15"/>
<circle cx="106.0" cy="136.0" r="2.15"/>
<circle cx="104.1" cy="103.7" r="2.15"/>
<circle cx="105.4" cy="131.8" r="2.15"/>
<circle cx="104.1" cy="131.2" r="2.15"/>
<circle cx="105.1" cy="136.0" r="2.15"/>
<circle cx="107.0" cy="137.6" r="2.15"/>
<circle cx="104.0" cy="119.1" r="2.15"/>
<circle cx="105.6" cy="141.2" r="2.15"/>
<circle cx="104.9" cy="139.2" r="2.15"/>
<circle cx="106.9" cy="102.9" r="2.15"/>
<circle cx="104.5" cy="112.5" r="2.15"/>
<circle cx="106.0" cy="112.7" r="2.15"/>
<circle cx="105.8" cy="93.2" r="2.15"/>
<circle cx="105.8" cy="116.6" r="2.15"/>
<circle cx="106.5" cy="99.4" r="2.15"/>
<circle cx="107.0" cy="136.3" r="2.15"/>
<circle cx="106.5" cy="110.0" r="2.15"/>
<circle cx="106.6" cy="113.2" r="2.15"/>
<circle cx="107.0" cy="96.2" r="2.15"/>
<circle cx="105.7" cy="143.6" r="2.15"/>
<circle cx="105.8" cy="120.2" r="2.15"/>
<circle cx="104.0" cy="121.5" r="2.15"/>
<circle cx="104.7" cy="144.3" r="2.15"/>
<circle cx="104.3" cy="102.7" r="2.15"/>
<circle cx="106.8" cy="106.3" r="2.15"/>
<circle cx="104.2" cy="94.6" r="2.15"/>
<circle cx="104.6" cy="130.0" r="2.15"/>
<circle cx="106.1" cy="93.9" r="2.15"/>
<circle cx="105.8" cy="123.6" r="2.15"/>
<circle cx="104.3" cy="130.2" r="2.15"/>
<circle cx="106.5" cy="139.1" r="2.15"/>
<circle cx="104.3" cy="95.4" r="2.15"/>
<circle cx="105.7" cy="119.2" r="2.15"/>
<circle cx="104.3" cy="107.8" r="2.15"/>
<circle cx="104.4" cy="114.5" r="2.15"/>
<circle cx="107.0" cy="124.4" r="2.15"/>
<circle cx="106.0" cy="100.8" r="2.15"/>
<circle cx="104.5" cy="132.6" r="2.15"/>
<circle cx="107.3" cy="136.8" r="2.15"/>
<circle cx="105.4" cy="113.6" r="2.15"/>
<circle cx="105.8" cy="137.5" r="2.15"/>
<circle cx="107.3" cy="114.0" r="2.15"/>
<circle cx="105.1" cy="134.2" r="2.15"/>
<circle cx="105.1" cy="105.7" r="2.15"/>
<circle cx="107.4" cy="116.1" r="2.15"/>
<circle cx="107.2" cy="135.6" r="2.15"/>
<circle cx="107.0" cy="136.2" r="2.15"/>
<circle cx="105.8" cy="95.8" r="2.15"/>
<circle cx="107.3" cy="143.8" r="2.15"/>
<circle cx="105.4" cy="106.2" r="2.15"/>
<circle cx="105.2" cy="126.5" r="2.15"/>
<circle cx="104.1" cy="121.1" r="2.15"/>
<circle cx="105.7" cy="116.0" r="2.15"/>
<circle cx="104.4" cy="94.1" r="2.15"/>
<circle cx="106.7" cy="144.4" r="2.15"/>
<circle cx="106.2" cy="142.7" r="2.15"/>
<circle cx="107.1" cy="135.9" r="2.15"/>
<circle cx="104.0" cy="139.9" r="2.15"/>
<circle cx="104.9" cy="127.0" r="2.15"/>
<circle cx="104.9" cy="129.0" r="2.15"/>
<circle cx="107.2" cy="121.7" r="2.15"/>
<circle cx="104.8" cy="125.9" r="2.15"/>
<circle cx="105.5" cy="120.6" r="2.15"/>
<circle cx="104.9" cy="143.4" r="2.15"/>
<circle cx="106.2" cy="109.2" r="2.15"/>
<circle cx="106.0" cy="99.4" r="2.15"/>
<circle cx="105.7" cy="143.7" r="2.15"/>
<circle cx="105.6" cy="107.2" r="2.15"/>
<circle cx="104.4" cy="121.3" r="2.15"/>
<circle cx="104.4" cy="99.6" r="2.15"/>
<circle cx="105.4" cy="108.6" r="2.15"/>
<circle cx="104.8" cy="108.3" r="2.15"/>
<circle cx="105.9" cy="147.2" r="2.15"/>
<circle cx="106.1" cy="157.8" r="2.15"/>
<circle cx="106.2" cy="154.0" r="2.15"/>
<circle cx="106.5" cy="148.8" r="2.15"/>
<circle cx="105.9" cy="152.5" r="2.15"/>
<circle cx="105.6" cy="154.6" r="2.15"/>
<circle cx="125.2" cy="112.3" r="2.15"/>
<circle cx="125.5" cy="106.7" r="2.15"/>
<circle cx="125.6" cy="116.8" r="2.15"/>
<circle cx="125.4" cy="93.7" r="2.15"/>
<circle cx="125.2" cy="146.4" r="2.15"/>
<circle cx="125.5" cy="127.5" r="2.15"/>
<circle cx="126.0" cy="110.7" r="2.15"/>
<circle cx="125.8" cy="111.3" r="2.15"/>
<circle cx="125.1" cy="102.8" r="2.15"/>
<circle cx="125.4" cy="147.0" r="2.15"/>
<circle cx="125.4" cy="96.8" r="2.15"/>
<circle cx="125.7" cy="120.3" r="2.15"/>
<circle cx="125.2" cy="99.8" r="2.15"/>
<circle cx="125.7" cy="152.5" r="2.15"/>
<circle cx="125.3" cy="102.6" r="2.15"/>
<circle cx="125.7" cy="114.9" r="2.15"/>
<circle cx="125.8" cy="131.2" r="2.15"/>
<circle cx="125.5" cy="143.9" r="2.15"/>
<circle cx="125.7" cy="138.8" r="2.15"/>
<circle cx="125.5" cy="140.1" r="2.15"/>
<circle cx="125.7" cy="141.7" r="2.15"/>
<circle cx="125.1" cy="149.7" r="2.15"/>
<circle cx="125.0" cy="147.0" r="2.15"/>
<circle cx="125.6" cy="140.5" r="2.15"/>
<circle cx="126.0" cy="123.9" r="2.15"/>
<circle cx="125.4" cy="128.5" r="2.15"/>
<circle cx="125.9" cy="141.6" r="2.15"/>
<circle cx="125.4" cy="130.7" r="2.15"/>
<circle cx="125.5" cy="121.0" r="2.15"/>
<circle cx="125.3" cy="137.8" r="2.15"/>
<circle cx="125.6" cy="117.2" r="2.15"/>
<circle cx="125.3" cy="116.8" r="2.15"/>
<circle cx="125.8" cy="141.8" r="2.15"/>
<circle cx="125.4" cy="124.0" r="2.15"/>
<circle cx="125.2" cy="161.0" r="2.15"/>
<circle cx="132.1" cy="93.7" r="2.15"/>
<circle cx="133.0" cy="96.2" r="2.15"/>
<circle cx="133.6" cy="91.8" r="2.15"/>
<circle cx="133.5" cy="93.9" r="2.15"/>
<circle cx="133.7" cy="98.5" r="2.15"/>
<circle cx="132.7" cy="92.8" r="2.15"/>
<circle cx="131.8" cy="99.2" r="2.15"/>
<circle cx="132.9" cy="103.2" r="2.15"/>
<circle cx="133.6" cy="133.8" r="2.15"/>
<circle cx="132.9" cy="152.6" r="2.15"/>
<circle cx="132.8" cy="167.9" r="2.15"/>
<circle cx="133.2" cy="135.2" r="2.15"/>
<circle cx="132.5" cy="126.5" r="2.15"/>
<circle cx="132.5" cy="140.4" r="2.15"/>
<circle cx="133.2" cy="164.5" r="2.15"/>
<circle cx="132.0" cy="135.7" r="2.15"/>
<circle cx="132.6" cy="125.5" r="2.15"/>
<circle cx="132.9" cy="138.2" r="2.15"/>
<circle cx="133.7" cy="159.8" r="2.15"/>
<circle cx="132.7" cy="133.1" r="2.15"/>
<circle cx="133.8" cy="142.5" r="2.15"/>
<circle cx="132.9" cy="123.3" r="2.15"/>
<circle cx="132.1" cy="155.5" r="2.15"/>
<circle cx="133.8" cy="121.6" r="2.15"/>
<circle cx="132.8" cy="156.2" r="2.15"/>
<circle cx="133.6" cy="107.5" r="2.15"/>
<circle cx="133.4" cy="146.9" r="2.15"/>
<circle cx="133.6" cy="167.3" r="2.15"/>
<circle cx="132.1" cy="128.6" r="2.15"/>
<circle cx="132.8" cy="119.7" r="2.15"/>
<circle cx="132.2" cy="134.3" r="2.15"/>
<circle cx="133.1" cy="112.4" r="2.15"/>
<circle cx="132.5" cy="141.0" r="2.15"/>
<circle cx="133.1" cy="167.6" r="2.15"/>
<circle cx="132.6" cy="102.9" r="2.15"/>
<circle cx="132.4" cy="153.6" r="2.15"/>
<circle cx="131.8" cy="147.0" r="2.15"/>
<circle cx="133.5" cy="120.7" r="2.15"/>
<circle cx="133.1" cy="139.9" r="2.15"/>
<circle cx="132.8" cy="113.4" r="2.15"/>
<circle cx="132.3" cy="137.6" r="2.15"/>
<circle cx="132.9" cy="144.0" r="2.15"/>
<circle cx="132.9" cy="167.8" r="2.15"/>
<circle cx="132.0" cy="128.0" r="2.15"/>
<circle cx="133.3" cy="110.7" r="2.15"/>
<circle cx="132.0" cy="107.3" r="2.15"/>
<circle cx="132.8" cy="111.6" r="2.15"/>
<circle cx="133.0" cy="156.0" r="2.15"/>
<circle cx="131.9" cy="154.8" r="2.15"/>
<circle cx="133.3" cy="100.8" r="2.15"/>
<circle cx="133.2" cy="122.0" r="2.15"/>
<circle cx="132.1" cy="124.1" r="2.15"/>
<circle cx="132.0" cy="118.1" r="2.15"/>
<circle cx="133.0" cy="161.5" r="2.15"/>
<circle cx="132.7" cy="123.7" r="2.15"/>
<circle cx="131.9" cy="126.2" r="2.15"/>
<circle cx="133.0" cy="160.6" r="2.15"/>
<circle cx="132.7" cy="165.3" r="2.15"/>
<circle cx="132.3" cy="142.2" r="2.15"/>
<circle cx="133.7" cy="103.0" r="2.15"/>
<circle cx="132.4" cy="158.1" r="2.15"/>
<circle cx="133.4" cy="161.1" r="2.15"/>
<circle cx="133.0" cy="120.7" r="2.15"/>
<circle cx="132.8" cy="165.3" r="2.15"/>
<circle cx="132.3" cy="164.6" r="2.15"/>
<circle cx="133.2" cy="126.5" r="2.15"/>
<circle cx="132.4" cy="115.1" r="2.15"/>
<circle cx="132.8" cy="159.5" r="2.15"/>
<circle cx="132.3" cy="153.9" r="2.15"/>
<circle cx="132.5" cy="111.8" r="2.15"/>
<circle cx="133.7" cy="112.7" r="2.15"/>
<circle cx="132.9" cy="119.8" r="2.15"/>
<circle cx="132.9" cy="107.8" r="2.15"/>
<circle cx="132.6" cy="126.2" r="2.15"/>
<circle cx="132.0" cy="104.5" r="2.15"/>
<circle cx="132.5" cy="156.2" r="2.15"/>
<circle cx="132.2" cy="116.7" r="2.15"/>
<circle cx="132.3" cy="119.3" r="2.15"/>
<circle cx="133.1" cy="102.4" r="2.15"/>
<circle cx="132.1" cy="123.2" r="2.15"/>
<circle cx="132.0" cy="148.0" r="2.15"/>
<circle cx="133.5" cy="118.3" r="2.15"/>
<circle cx="132.7" cy="108.7" r="2.15"/>
<circle cx="133.4" cy="156.9" r="2.15"/>
<circle cx="132.5" cy="110.8" r="2.15"/>
<circle cx="132.6" cy="149.1" r="2.15"/>
<circle cx="132.2" cy="165.2" r="2.15"/>
<circle cx="132.8" cy="164.7" r="2.15"/>
<circle cx="132.7" cy="115.5" r="2.15"/>
<circle cx="133.2" cy="108.9" r="2.15"/>
<circle cx="133.6" cy="117.7" r="2.15"/>
<circle cx="132.5" cy="140.0" r="2.15"/>
<circle cx="133.0" cy="116.7" r="2.15"/>
<circle cx="133.5" cy="114.5" r="2.15"/>
<circle cx="132.8" cy="108.3" r="2.15"/>
<circle cx="132.3" cy="136.9" r="2.15"/>
<circle cx="132.6" cy="152.5" r="2.15"/>
<circle cx="132.9" cy="144.7" r="2.15"/>
<circle cx="132.6" cy="121.1" r="2.15"/>
<circle cx="132.2" cy="105.9" r="2.15"/>
<circle cx="132.4" cy="157.9" r="2.15"/>
<circle cx="132.0" cy="145.1" r="2.15"/>
<circle cx="132.5" cy="138.2" r="2.15"/>
<circle cx="132.4" cy="134.0" r="2.15"/>
<circle cx="132.4" cy="104.5" r="2.15"/>
<circle cx="132.1" cy="115.4" r="2.15"/>
<circle cx="132.4" cy="148.7" r="2.15"/>
<circle cx="133.6" cy="127.4" r="2.15"/>
<circle cx="133.6" cy="152.7" r="2.15"/>
<circle cx="132.1" cy="158.6" r="2.15"/>
<circle cx="131.9" cy="118.8" r="2.15"/>
<circle cx="133.1" cy="146.2" r="2.15"/>
<circle cx="132.6" cy="123.9" r="2.15"/>
<circle cx="133.2" cy="144.8" r="2.15"/>
<circle cx="133.5" cy="116.9" r="2.15"/>
<circle cx="133.1" cy="123.9" r="2.15"/>
<circle cx="132.0" cy="112.4" r="2.15"/>
<circle cx="133.3" cy="162.1" r="2.15"/>
<circle cx="131.9" cy="148.5" r="2.15"/>
<circle cx="132.1" cy="102.7" r="2.15"/>
<circle cx="132.4" cy="113.5" r="2.15"/>
<circle cx="131.9" cy="125.9" r="2.15"/>
<circle cx="133.1" cy="121.1" r="2.15"/>
<circle cx="133.5" cy="112.2" r="2.15"/>
<circle cx="133.2" cy="138.8" r="2.15"/>
<circle cx="132.7" cy="117.3" r="2.15"/>
<circle cx="132.5" cy="146.5" r="2.15"/>
<circle cx="133.5" cy="100.1" r="2.15"/>
<circle cx="132.4" cy="152.8" r="2.15"/>
<circle cx="133.5" cy="102.9" r="2.15"/>
<circle cx="131.9" cy="141.3" r="2.15"/>
<circle cx="132.0" cy="116.6" r="2.15"/>
<circle cx="132.2" cy="153.8" r="2.15"/>
<circle cx="133.3" cy="162.2" r="2.15"/>
<circle cx="133.2" cy="105.9" r="2.15"/>
<circle cx="133.3" cy="126.8" r="2.15"/>
<circle cx="132.4" cy="156.4" r="2.15"/>
<circle cx="133.7" cy="106.1" r="2.15"/>
<circle cx="133.7" cy="128.8" r="2.15"/>
<circle cx="133.3" cy="147.0" r="2.15"/>
<circle cx="133.1" cy="156.4" r="2.15"/>
<circle cx="131.9" cy="130.8" r="2.15"/>
<circle cx="132.7" cy="147.5" r="2.15"/>
<circle cx="133.7" cy="134.8" r="2.15"/>
<circle cx="133.3" cy="108.7" r="2.15"/>
<circle cx="133.2" cy="103.0" r="2.15"/>
<circle cx="132.3" cy="154.8" r="2.15"/>
<circle cx="133.7" cy="137.2" r="2.15"/>
<circle cx="132.9" cy="143.4" r="2.15"/>
<circle cx="131.9" cy="117.0" r="2.15"/>
<circle cx="132.6" cy="124.3" r="2.15"/>
<circle cx="132.4" cy="113.7" r="2.15"/>
<circle cx="133.2" cy="109.3" r="2.15"/>
<circle cx="132.3" cy="145.6" r="2.15"/>
<circle cx="132.8" cy="116.4" r="2.15"/>
<circle cx="133.7" cy="130.3" r="2.15"/>
<circle cx="132.4" cy="123.9" r="2.15"/>
<circle cx="132.1" cy="160.2" r="2.15"/>
<circle cx="132.5" cy="138.3" r="2.15"/>
<circle cx="132.9" cy="155.4" r="2.15"/>
<circle cx="132.1" cy="151.7" r="2.15"/>
<circle cx="133.0" cy="145.3" r="2.15"/>
<circle cx="133.3" cy="131.4" r="2.15"/>
<circle cx="132.0" cy="156.5" r="2.15"/>
<circle cx="132.5" cy="119.7" r="2.15"/>
<circle cx="131.9" cy="114.0" r="2.15"/>
<circle cx="132.2" cy="119.1" r="2.15"/>
<circle cx="132.7" cy="147.7" r="2.15"/>
<circle cx="132.4" cy="107.7" r="2.15"/>
<circle cx="132.5" cy="131.9" r="2.15"/>
<circle cx="131.9" cy="111.4" r="2.15"/>
<circle cx="133.8" cy="100.7" r="2.15"/>
<circle cx="132.0" cy="151.0" r="2.15"/>
<circle cx="133.8" cy="148.8" r="2.15"/>
<circle cx="132.0" cy="138.3" r="2.15"/>
<circle cx="132.7" cy="133.2" r="2.15"/>
<circle cx="132.9" cy="112.9" r="2.15"/>
<circle cx="133.6" cy="100.6" r="2.15"/>
<circle cx="133.1" cy="143.8" r="2.15"/>
<circle cx="133.1" cy="163.6" r="2.15"/>
<circle cx="132.3" cy="117.1" r="2.15"/>
<circle cx="131.9" cy="109.4" r="2.15"/>
<circle cx="133.5" cy="152.7" r="2.15"/>
<circle cx="132.2" cy="120.1" r="2.15"/>
<circle cx="133.5" cy="143.4" r="2.15"/>
<circle cx="132.1" cy="163.0" r="2.15"/>
<circle cx="133.5" cy="153.4" r="2.15"/>
<circle cx="132.5" cy="150.5" r="2.15"/>
<circle cx="133.5" cy="112.5" r="2.15"/>
<circle cx="132.5" cy="121.8" r="2.15"/>
<circle cx="132.5" cy="137.5" r="2.15"/>
<circle cx="132.3" cy="156.5" r="2.15"/>
<circle cx="132.9" cy="102.8" r="2.15"/>
<circle cx="133.4" cy="142.7" r="2.15"/>
<circle cx="133.6" cy="148.0" r="2.15"/>
<circle cx="132.8" cy="164.3" r="2.15"/>
<circle cx="132.1" cy="134.0" r="2.15"/>
<circle cx="133.0" cy="120.4" r="2.15"/>
<circle cx="133.2" cy="105.5" r="2.15"/>
<circle cx="132.7" cy="111.1" r="2.15"/>
<circle cx="132.0" cy="165.9" r="2.15"/>
<circle cx="132.7" cy="102.7" r="2.15"/>
<circle cx="133.2" cy="113.0" r="2.15"/>
<circle cx="133.5" cy="100.2" r="2.15"/>
<circle cx="133.4" cy="158.2" r="2.15"/>
<circle cx="132.4" cy="128.9" r="2.15"/>
<circle cx="132.8" cy="145.0" r="2.15"/>
<circle cx="132.5" cy="128.6" r="2.15"/>
<circle cx="133.1" cy="129.8" r="2.15"/>
<circle cx="133.6" cy="156.2" r="2.15"/>
<circle cx="132.4" cy="111.2" r="2.15"/>
<circle cx="132.9" cy="130.1" r="2.15"/>
<circle cx="132.2" cy="123.7" r="2.15"/>
<circle cx="132.4" cy="105.8" r="2.15"/>
<circle cx="133.7" cy="131.3" r="2.15"/>
<circle cx="133.5" cy="161.8" r="2.15"/>
<circle cx="133.7" cy="166.3" r="2.15"/>
<circle cx="133.4" cy="142.2" r="2.15"/>
<circle cx="133.2" cy="104.1" r="2.15"/>
<circle cx="132.4" cy="141.4" r="2.15"/>
<circle cx="133.7" cy="138.8" r="2.15"/>
<circle cx="133.1" cy="132.7" r="2.15"/>
<circle cx="132.5" cy="120.4" r="2.15"/>
<circle cx="131.9" cy="160.2" r="2.15"/>
<circle cx="133.2" cy="112.8" r="2.15"/>
<circle cx="132.0" cy="130.4" r="2.15"/>
<circle cx="132.5" cy="144.9" r="2.15"/>
<circle cx="132.6" cy="139.5" r="2.15"/>
<circle cx="132.9" cy="136.0" r="2.15"/>
<circle cx="132.0" cy="127.0" r="2.15"/>
<circle cx="133.6" cy="112.3" r="2.15"/>
<circle cx="132.0" cy="137.3" r="2.15"/>
<circle cx="132.3" cy="158.6" r="2.15"/>
<circle cx="132.9" cy="106.5" r="2.15"/>
<circle cx="132.8" cy="117.1" r="2.15"/>
<circle cx="132.3" cy="137.7" r="2.15"/>
<circle cx="132.0" cy="138.9" r="2.15"/>
<circle cx="133.0" cy="134.9" r="2.15"/>
<circle cx="132.6" cy="105.5" r="2.15"/>
<circle cx="132.7" cy="105.0" r="2.15"/>
<circle cx="132.9" cy="158.7" r="2.15"/>
<circle cx="133.3" cy="148.6" r="2.15"/>
<circle cx="133.8" cy="107.8" r="2.15"/>
<circle cx="132.0" cy="149.1" r="2.15"/>
<circle cx="132.6" cy="156.5" r="2.15"/>
<circle cx="133.7" cy="111.6" r="2.15"/>
<circle cx="133.3" cy="138.3" r="2.15"/>
<circle cx="133.4" cy="109.3" r="2.15"/>
<circle cx="132.3" cy="103.9" r="2.15"/>
<circle cx="131.8" cy="125.3" r="2.15"/>
<circle cx="132.2" cy="140.4" r="2.15"/>
<circle cx="133.2" cy="120.4" r="2.15"/>
<circle cx="133.6" cy="129.0" r="2.15"/>
<circle cx="133.5" cy="142.2" r="2.15"/>
<circle cx="133.6" cy="138.3" r="2.15"/>
<circle cx="132.1" cy="159.2" r="2.15"/>
<circle cx="132.5" cy="150.7" r="2.15"/>
<circle cx="133.2" cy="151.9" r="2.15"/>
<circle cx="132.0" cy="156.1" r="2.15"/>
<circle cx="133.3" cy="125.4" r="2.15"/>
<circle cx="133.2" cy="164.5" r="2.15"/>
<circle cx="133.0" cy="103.0" r="2.15"/>
<circle cx="132.9" cy="106.8" r="2.15"/>
<circle cx="132.0" cy="154.6" r="2.15"/>
<circle cx="133.2" cy="162.9" r="2.15"/>
<circle cx="132.2" cy="117.3" r="2.15"/>
<circle cx="133.5" cy="130.4" r="2.15"/>
<circle cx="132.0" cy="139.5" r="2.15"/>
<circle cx="132.0" cy="101.4" r="2.15"/>
<circle cx="132.2" cy="154.4" r="2.15"/>
<circle cx="132.4" cy="137.7" r="2.15"/>
<circle cx="132.6" cy="146.7" r="2.15"/>
<circle cx="133.6" cy="109.8" r="2.15"/>
<circle cx="133.2" cy="136.6" r="2.15"/>
<circle cx="133.7" cy="155.0" r="2.15"/>
<circle cx="132.5" cy="100.9" r="2.15"/>
<circle cx="132.8" cy="110.3" r="2.15"/>
<circle cx="133.4" cy="159.4" r="2.15"/>
<circle cx="132.2" cy="102.4" r="2.15"/>
<circle cx="133.2" cy="155.6" r="2.15"/>
<circle cx="132.8" cy="126.7" r="2.15"/>
<circle cx="133.5" cy="110.8" r="2.15"/>
<circle cx="133.5" cy="126.8" r="2.15"/>
<circle cx="132.0" cy="141.5" r="2.15"/>
<circle cx="132.2" cy="122.4" r="2.15"/>
<circle cx="133.0" cy="160.8" r="2.15"/>
<circle cx="132.1" cy="103.0" r="2.15"/>
<circle cx="132.7" cy="124.5" r="2.15"/>
<circle cx="132.6" cy="139.2" r="2.15"/>
<circle cx="131.8" cy="124.1" r="2.15"/>
<circle cx="132.5" cy="139.4" r="2.15"/>
<circle cx="132.7" cy="101.4" r="2.15"/>
<circle cx="131.9" cy="175.9" r="2.15"/>
<circle cx="133.1" cy="169.2" r="2.15"/>
<circle cx="132.3" cy="170.2" r="2.15"/>
<circle cx="132.3" cy="172.0" r="2.15"/>
<circle cx="132.9" cy="172.6" r="2.15"/>
<circle cx="133.8" cy="175.7" r="2.15"/>
<circle cx="132.9" cy="168.3" r="2.15"/>
<circle cx="133.5" cy="174.2" r="2.15"/>
<circle cx="133.1" cy="174.2" r="2.15"/>
<circle cx="132.5" cy="173.1" r="2.15"/>
<circle cx="144.9" cy="82.5" r="2.15"/>
<circle cx="145.3" cy="95.6" r="2.15"/>
<circle cx="146.0" cy="143.0" r="2.15"/>
<circle cx="144.7" cy="134.0" r="2.15"/>
<circle cx="145.6" cy="137.9" r="2.15"/>
<circle cx="145.4" cy="125.9" r="2.15"/>
<circle cx="145.2" cy="118.5" r="2.15"/>
<circle cx="144.2" cy="121.1" r="2.15"/>
<circle cx="144.7" cy="117.8" r="2.15"/>
<circle cx="145.1" cy="148.5" r="2.15"/>
<circle cx="144.6" cy="119.3" r="2.15"/>
<circle cx="144.8" cy="113.0" r="2.15"/>
<circle cx="144.1" cy="108.4" r="2.15"/>
<circle cx="145.0" cy="142.9" r="2.15"/>
<circle cx="145.2" cy="122.9" r="2.15"/>
<circle cx="144.4" cy="116.2" r="2.15"/>
<circle cx="144.7" cy="105.1" r="2.15"/>
<circle cx="145.6" cy="116.5" r="2.15"/>
<circle cx="146.0" cy="127.9" r="2.15"/>
<circle cx="145.9" cy="118.0" r="2.15"/>
<circle cx="144.3" cy="129.4" r="2.15"/>
<circle cx="145.3" cy="110.4" r="2.15"/>
<circle cx="144.8" cy="148.4" r="2.15"/>
<circle cx="145.0" cy="138.4" r="2.15"/>
<circle cx="144.2" cy="142.8" r="2.15"/>
<circle cx="145.9" cy="124.8" r="2.15"/>
<circle cx="144.6" cy="115.0" r="2.15"/>
<circle cx="144.4" cy="103.1" r="2.15"/>
<circle cx="145.5" cy="114.6" r="2.15"/>
<circle cx="144.9" cy="112.3" r="2.15"/>
<circle cx="145.3" cy="111.4" r="2.15"/>
<circle cx="145.4" cy="142.6" r="2.15"/>
<circle cx="145.6" cy="111.2" r="2.15"/>
<circle cx="145.3" cy="147.3" r="2.15"/>
<circle cx="145.7" cy="105.7" r="2.15"/>
<circle cx="144.8" cy="143.1" r="2.15"/>
<circle cx="144.5" cy="108.4" r="2.15"/>
<circle cx="145.9" cy="127.2" r="2.15"/>
<circle cx="145.9" cy="132.1" r="2.15"/>
<circle cx="144.8" cy="112.0" r="2.15"/>
<circle cx="145.4" cy="137.2" r="2.15"/>
<circle cx="145.5" cy="121.0" r="2.15"/>
<circle cx="144.2" cy="117.9" r="2.15"/>
<circle cx="144.2" cy="121.5" r="2.15"/>
<circle cx="144.8" cy="131.4" r="2.15"/>
<circle cx="145.3" cy="125.2" r="2.15"/>
<circle cx="145.0" cy="114.1" r="2.15"/>
<circle cx="146.0" cy="102.6" r="2.15"/>
<circle cx="146.1" cy="128.5" r="2.15"/>
<circle cx="145.3" cy="104.6" r="2.15"/>
<circle cx="144.8" cy="136.0" r="2.15"/>
<circle cx="144.4" cy="106.4" r="2.15"/>
<circle cx="145.6" cy="108.7" r="2.15"/>
<circle cx="145.7" cy="106.2" r="2.15"/>
<circle cx="145.2" cy="121.9" r="2.15"/>
<circle cx="145.2" cy="129.7" r="2.15"/>
<circle cx="145.3" cy="132.9" r="2.15"/>
<circle cx="145.6" cy="117.5" r="2.15"/>
<circle cx="145.5" cy="114.1" r="2.15"/>
<circle cx="145.7" cy="137.9" r="2.15"/>
<circle cx="145.6" cy="116.5" r="2.15"/>
<circle cx="145.0" cy="147.9" r="2.15"/>
<circle cx="145.1" cy="115.1" r="2.15"/>
<circle cx="144.4" cy="146.2" r="2.15"/>
<circle cx="145.1" cy="102.4" r="2.15"/>
<circle cx="145.6" cy="132.8" r="2.15"/>
<circle cx="146.1" cy="119.0" r="2.15"/>
<circle cx="145.6" cy="112.7" r="2.15"/>
<circle cx="144.2" cy="106.2" r="2.15"/>
<circle cx="144.2" cy="108.3" r="2.15"/>
<circle cx="145.2" cy="125.6" r="2.15"/>
<circle cx="146.0" cy="110.5" r="2.15"/>
<circle cx="144.4" cy="119.2" r="2.15"/>
<circle cx="145.6" cy="110.3" r="2.15"/>
<circle cx="144.4" cy="145.3" r="2.15"/>
<circle cx="145.7" cy="103.4" r="2.15"/>
<circle cx="146.1" cy="113.4" r="2.15"/>
<circle cx="145.4" cy="125.5" r="2.15"/>
<circle cx="145.7" cy="118.2" r="2.15"/>
<circle cx="144.7" cy="123.6" r="2.15"/>
<circle cx="144.3" cy="144.5" r="2.15"/>
<circle cx="144.2" cy="136.5" r="2.15"/>
<circle cx="144.9" cy="132.3" r="2.15"/>
<circle cx="144.2" cy="142.6" r="2.15"/>
<circle cx="144.9" cy="128.5" r="2.15"/>
<circle cx="146.0" cy="145.2" r="2.15"/>
<circle cx="144.5" cy="131.5" r="2.15"/>
<circle cx="144.6" cy="113.8" r="2.15"/>
<circle cx="144.6" cy="122.4" r="2.15"/>
<circle cx="145.6" cy="111.6" r="2.15"/>
<circle cx="144.7" cy="132.2" r="2.15"/>
<circle cx="144.5" cy="148.7" r="2.15"/>
<circle cx="144.4" cy="128.8" r="2.15"/>
<circle cx="145.8" cy="142.6" r="2.15"/>
<circle cx="145.6" cy="114.6" r="2.15"/>
<circle cx="144.7" cy="140.7" r="2.15"/>
<circle cx="145.1" cy="117.6" r="2.15"/>
<circle cx="144.4" cy="143.9" r="2.15"/>
<circle cx="145.3" cy="134.1" r="2.15"/>
<circle cx="145.3" cy="123.3" r="2.15"/>
<circle cx="144.5" cy="143.5" r="2.15"/>
<circle cx="144.8" cy="143.5" r="2.15"/>
<circle cx="145.8" cy="138.7" r="2.15"/>
<circle cx="145.8" cy="110.6" r="2.15"/>
<circle cx="144.7" cy="148.8" r="2.15"/>
<circle cx="144.3" cy="103.1" r="2.15"/>
<circle cx="144.1" cy="147.8" r="2.15"/>
<circle cx="144.4" cy="144.8" r="2.15"/>
<circle cx="144.3" cy="136.6" r="2.15"/>
<circle cx="145.5" cy="109.9" r="2.15"/>
<circle cx="144.8" cy="106.2" r="2.15"/>
<circle cx="145.5" cy="145.2" r="2.15"/>
<circle cx="146.1" cy="143.5" r="2.15"/>
<circle cx="144.6" cy="103.5" r="2.15"/>
<circle cx="145.5" cy="139.2" r="2.15"/>
<circle cx="145.1" cy="103.8" r="2.15"/>
<circle cx="145.0" cy="112.9" r="2.15"/>
<circle cx="144.1" cy="106.9" r="2.15"/>
<circle cx="144.7" cy="148.6" r="2.15"/>
<circle cx="144.3" cy="143.3" r="2.15"/>
<circle cx="144.4" cy="124.9" r="2.15"/>
<circle cx="144.5" cy="122.1" r="2.15"/>
<circle cx="144.4" cy="134.2" r="2.15"/>
<circle cx="145.1" cy="136.7" r="2.15"/>
<circle cx="144.8" cy="107.3" r="2.15"/>
<circle cx="145.9" cy="125.3" r="2.15"/>
<circle cx="144.5" cy="118.4" r="2.15"/>
<circle cx="145.9" cy="147.5" r="2.15"/>
<circle cx="144.6" cy="136.4" r="2.15"/>
<circle cx="144.6" cy="110.3" r="2.15"/>
<circle cx="144.2" cy="105.2" r="2.15"/>
<circle cx="144.9" cy="125.9" r="2.15"/>
<circle cx="144.8" cy="128.2" r="2.15"/>
<circle cx="145.5" cy="102.5" r="2.15"/>
<circle cx="145.2" cy="132.7" r="2.15"/>
<circle cx="145.5" cy="127.8" r="2.15"/>
<circle cx="145.8" cy="148.2" r="2.15"/>
<circle cx="144.9" cy="135.7" r="2.15"/>
<circle cx="144.9" cy="117.0" r="2.15"/>
<circle cx="144.9" cy="147.7" r="2.15"/>
<circle cx="144.9" cy="161.2" r="2.15"/>
<circle cx="146.1" cy="157.3" r="2.15"/>
<circle cx="145.3" cy="155.1" r="2.15"/>
<circle cx="144.6" cy="169.8" r="2.15"/>
<circle cx="144.9" cy="164.8" r="2.15"/>
<circle cx="144.5" cy="158.9" r="2.15"/>
<circle cx="145.8" cy="156.9" r="2.15"/>
<circle cx="145.9" cy="167.5" r="2.15"/>
<circle cx="145.5" cy="155.8" r="2.15"/>
<circle cx="151.3" cy="118.6" r="2.15"/>
<circle cx="151.0" cy="129.3" r="2.15"/>
<circle cx="150.7" cy="149.6" r="2.15"/>
<circle cx="151.6" cy="138.8" r="2.15"/>
<circle cx="151.3" cy="127.5" r="2.15"/>
<circle cx="150.9" cy="150.7" r="2.15"/>
<circle cx="151.4" cy="133.2" r="2.15"/>
<circle cx="151.4" cy="121.2" r="2.15"/>
<circle cx="151.2" cy="121.9" r="2.15"/>
<circle cx="151.4" cy="132.4" r="2.15"/>
<circle cx="151.3" cy="118.5" r="2.15"/>
<circle cx="150.9" cy="129.1" r="2.15"/>
<circle cx="151.0" cy="132.4" r="2.15"/>
<circle cx="151.2" cy="146.6" r="2.15"/>
<circle cx="151.2" cy="137.6" r="2.15"/>
<circle cx="150.9" cy="125.9" r="2.15"/>
<circle cx="151.6" cy="109.8" r="2.15"/>
<circle cx="151.2" cy="128.4" r="2.15"/>
<circle cx="151.5" cy="128.3" r="2.15"/>
<circle cx="150.9" cy="114.5" r="2.15"/>
<circle cx="151.2" cy="142.5" r="2.15"/>
<circle cx="187.6" cy="98.0" r="2.15"/>
<circle cx="187.7" cy="101.3" r="2.15"/>
<circle cx="187.7" cy="108.0" r="2.15"/>
<circle cx="187.7" cy="108.5" r="2.15"/>
<circle cx="187.2" cy="107.6" r="2.15"/>
<circle cx="187.4" cy="115.8" r="2.15"/>
<circle cx="187.7" cy="119.8" r="2.15"/>
<circle cx="187.7" cy="120.5" r="2.15"/>
<circle cx="187.3" cy="119.5" r="2.15"/>
<circle cx="187.3" cy="127.9" r="2.15"/>
<circle cx="187.4" cy="132.7" r="2.15"/>
<circle cx="187.3" cy="136.0" r="2.15"/>
<circle cx="187.4" cy="136.5" r="2.15"/>
<circle cx="187.7" cy="140.0" r="2.15"/>
<circle cx="187.5" cy="140.7" r="2.15"/>
<circle cx="187.5" cy="148.9" r="2.15"/>
<circle cx="187.3" cy="149.2" r="2.15"/>
<circle cx="187.4" cy="156.0" r="2.15"/>
<circle cx="187.8" cy="160.0" r="2.15"/>
<circle cx="187.6" cy="164.0" r="2.15"/>
<circle cx="281.5" cy="52.2" r="2.15"/>
<circle cx="281.5" cy="60.7" r="2.15"/>
<circle cx="281.7" cy="61.0" r="2.15"/>
<circle cx="281.2" cy="76.1" r="2.15"/>
<circle cx="281.6" cy="74.9" r="2.15"/>
<circle cx="281.3" cy="72.3" r="2.15"/>
<circle cx="281.5" cy="69.9" r="2.15"/>
<circle cx="280.9" cy="70.1" r="2.15"/>
<circle cx="281.9" cy="67.2" r="2.15"/>
<circle cx="281.2" cy="64.9" r="2.15"/>
<circle cx="281.4" cy="75.5" r="2.15"/>
<circle cx="281.3" cy="69.2" r="2.15"/>
<circle cx="281.1" cy="77.3" r="2.15"/>
<circle cx="282.4" cy="74.2" r="2.15"/>
<circle cx="281.7" cy="67.2" r="2.15"/>
<circle cx="282.0" cy="76.7" r="2.15"/>
<circle cx="281.0" cy="69.9" r="2.15"/>
<circle cx="281.6" cy="71.1" r="2.15"/>
<circle cx="281.4" cy="75.4" r="2.15"/>
<circle cx="282.1" cy="70.5" r="2.15"/>
<circle cx="281.5" cy="77.0" r="2.15"/>
<circle cx="281.9" cy="70.2" r="2.15"/>
<circle cx="281.2" cy="78.8" r="2.15"/>
<circle cx="282.2" cy="79.5" r="2.15"/>
<circle cx="282.1" cy="70.0" r="2.15"/>
<circle cx="281.0" cy="69.3" r="2.15"/>
<circle cx="281.6" cy="76.1" r="2.15"/>
<circle cx="281.8" cy="72.4" r="2.15"/>
<circle cx="282.3" cy="78.4" r="2.15"/>
<circle cx="282.0" cy="64.4" r="2.15"/>
<circle cx="281.7" cy="71.4" r="2.15"/>
<circle cx="281.6" cy="145.5" r="2.15"/>
<circle cx="282.5" cy="116.9" r="2.15"/>
<circle cx="281.8" cy="114.3" r="2.15"/>
<circle cx="282.4" cy="119.9" r="2.15"/>
<circle cx="282.2" cy="132.3" r="2.15"/>
<circle cx="281.0" cy="111.3" r="2.15"/>
<circle cx="281.9" cy="133.0" r="2.15"/>
<circle cx="282.3" cy="140.0" r="2.15"/>
<circle cx="281.3" cy="89.2" r="2.15"/>
<circle cx="282.4" cy="86.0" r="2.15"/>
<circle cx="281.1" cy="87.9" r="2.15"/>
<circle cx="281.9" cy="138.8" r="2.15"/>
<circle cx="282.1" cy="84.3" r="2.15"/>
<circle cx="281.8" cy="135.5" r="2.15"/>
<circle cx="282.1" cy="84.3" r="2.15"/>
<circle cx="282.0" cy="112.6" r="2.15"/>
<circle cx="282.4" cy="157.9" r="2.15"/>
<circle cx="281.2" cy="148.0" r="2.15"/>
<circle cx="281.8" cy="106.1" r="2.15"/>
<circle cx="282.7" cy="80.5" r="2.15"/>
<circle cx="281.4" cy="101.4" r="2.15"/>
<circle cx="281.4" cy="104.4" r="2.15"/>
<circle cx="281.9" cy="147.0" r="2.15"/>
<circle cx="281.7" cy="119.9" r="2.15"/>
<circle cx="281.4" cy="84.0" r="2.15"/>
<circle cx="282.3" cy="147.6" r="2.15"/>
<circle cx="281.4" cy="146.8" r="2.15"/>
<circle cx="281.0" cy="95.8" r="2.15"/>
<circle cx="281.6" cy="121.9" r="2.15"/>
<circle cx="281.8" cy="116.2" r="2.15"/>
<circle cx="281.6" cy="125.5" r="2.15"/>
<circle cx="281.3" cy="142.5" r="2.15"/>
<circle cx="281.9" cy="151.7" r="2.15"/>
<circle cx="281.5" cy="84.0" r="2.15"/>
<circle cx="281.6" cy="121.6" r="2.15"/>
<circle cx="281.5" cy="124.1" r="2.15"/>
<circle cx="282.3" cy="101.3" r="2.15"/>
<circle cx="282.2" cy="102.7" r="2.15"/>
<circle cx="282.0" cy="142.6" r="2.15"/>
<circle cx="282.6" cy="115.5" r="2.15"/>
<circle cx="282.5" cy="114.7" r="2.15"/>
<circle cx="281.7" cy="84.5" r="2.15"/>
<circle cx="281.0" cy="129.9" r="2.15"/>
<circle cx="281.0" cy="147.3" r="2.15"/>
<circle cx="281.2" cy="126.5" r="2.15"/>
<circle cx="281.9" cy="151.9" r="2.15"/>
<circle cx="281.8" cy="142.5" r="2.15"/>
<circle cx="282.1" cy="132.6" r="2.15"/>
<circle cx="281.3" cy="103.0" r="2.15"/>
<circle cx="281.2" cy="145.4" r="2.15"/>
<circle cx="281.3" cy="151.6" r="2.15"/>
<circle cx="281.1" cy="87.9" r="2.15"/>
<circle cx="282.6" cy="141.2" r="2.15"/>
<circle cx="282.1" cy="112.3" r="2.15"/>
<circle cx="282.5" cy="100.1" r="2.15"/>
<circle cx="281.2" cy="133.5" r="2.15"/>
<circle cx="282.2" cy="84.4" r="2.15"/>
<circle cx="282.4" cy="83.3" r="2.15"/>
<circle cx="281.3" cy="102.9" r="2.15"/>
<circle cx="281.5" cy="125.4" r="2.15"/>
<circle cx="281.2" cy="123.7" r="2.15"/>
<circle cx="281.5" cy="151.1" r="2.15"/>
<circle cx="281.2" cy="145.6" r="2.15"/>
<circle cx="282.7" cy="142.4" r="2.15"/>
<circle cx="281.0" cy="110.5" r="2.15"/>
<circle cx="282.1" cy="109.6" r="2.15"/>
<circle cx="281.9" cy="97.4" r="2.15"/>
<circle cx="281.7" cy="87.3" r="2.15"/>
<circle cx="281.7" cy="136.8" r="2.15"/>
<circle cx="281.1" cy="133.0" r="2.15"/>
<circle cx="281.1" cy="144.6" r="2.15"/>
<circle cx="282.7" cy="152.0" r="2.15"/>
<circle cx="281.8" cy="153.3" r="2.15"/>
<circle cx="281.5" cy="102.7" r="2.15"/>
<circle cx="281.8" cy="138.5" r="2.15"/>
<circle cx="281.1" cy="152.5" r="2.15"/>
<circle cx="282.5" cy="117.8" r="2.15"/>
<circle cx="281.9" cy="126.6" r="2.15"/>
<circle cx="281.2" cy="86.9" r="2.15"/>
<circle cx="282.5" cy="101.2" r="2.15"/>
<circle cx="281.3" cy="145.9" r="2.15"/>
<circle cx="281.0" cy="152.1" r="2.15"/>
<circle cx="282.6" cy="126.7" r="2.15"/>
<circle cx="282.6" cy="106.9" r="2.15"/>
<circle cx="281.0" cy="131.2" r="2.15"/>
<circle cx="281.7" cy="106.0" r="2.15"/>
<circle cx="282.2" cy="99.3" r="2.15"/>
<circle cx="282.3" cy="94.0" r="2.15"/>
<circle cx="281.0" cy="103.3" r="2.15"/>
<circle cx="281.1" cy="123.6" r="2.15"/>
<circle cx="282.3" cy="123.0" r="2.15"/>
<circle cx="281.7" cy="126.5" r="2.15"/>
<circle cx="281.8" cy="82.6" r="2.15"/>
<circle cx="282.1" cy="87.6" r="2.15"/>
<circle cx="281.9" cy="90.3" r="2.15"/>
<circle cx="281.6" cy="107.5" r="2.15"/>
<circle cx="281.2" cy="131.7" r="2.15"/>
<circle cx="282.6" cy="93.2" r="2.15"/>
<circle cx="282.4" cy="105.9" r="2.15"/>
<circle cx="281.8" cy="148.1" r="2.15"/>
<circle cx="281.1" cy="91.6" r="2.15"/>
<circle cx="281.1" cy="148.6" r="2.15"/>
<circle cx="281.9" cy="118.7" r="2.15"/>
<circle cx="281.7" cy="89.2" r="2.15"/>
<circle cx="281.9" cy="92.8" r="2.15"/>
<circle cx="281.6" cy="119.5" r="2.15"/>
<circle cx="281.6" cy="95.4" r="2.15"/>
<circle cx="281.1" cy="95.9" r="2.15"/>
<circle cx="282.5" cy="98.7" r="2.15"/>
<circle cx="282.5" cy="119.1" r="2.15"/>
<circle cx="282.6" cy="81.2" r="2.15"/>
<circle cx="282.3" cy="118.1" r="2.15"/>
<circle cx="282.1" cy="124.5" r="2.15"/>
<circle cx="282.3" cy="97.9" r="2.15"/>
<circle cx="281.4" cy="92.0" r="2.15"/>
<circle cx="281.6" cy="82.4" r="2.15"/>
<circle cx="281.4" cy="120.4" r="2.15"/>
<circle cx="281.1" cy="149.5" r="2.15"/>
<circle cx="281.3" cy="125.1" r="2.15"/>
<circle cx="282.3" cy="126.4" r="2.15"/>
<circle cx="281.0" cy="135.4" r="2.15"/>
<circle cx="282.0" cy="99.2" r="2.15"/>
<circle cx="281.0" cy="156.7" r="2.15"/>
<circle cx="282.1" cy="128.2" r="2.15"/>
<circle cx="281.5" cy="143.5" r="2.15"/>
<circle cx="281.7" cy="143.2" r="2.15"/>
<circle cx="280.9" cy="151.8" r="2.15"/>
<circle cx="281.6" cy="153.3" r="2.15"/>
<circle cx="281.1" cy="111.8" r="2.15"/>
<circle cx="282.2" cy="99.1" r="2.15"/>
<circle cx="281.2" cy="132.9" r="2.15"/>
<circle cx="281.2" cy="106.9" r="2.15"/>
<circle cx="281.3" cy="95.5" r="2.15"/>
<circle cx="282.7" cy="105.8" r="2.15"/>
<circle cx="282.3" cy="157.8" r="2.15"/>
<circle cx="281.8" cy="117.4" r="2.15"/>
<circle cx="282.5" cy="140.8" r="2.15"/>
<circle cx="282.0" cy="138.6" r="2.15"/>
<circle cx="282.0" cy="95.5" r="2.15"/>
<circle cx="282.3" cy="146.0" r="2.15"/>
<circle cx="282.2" cy="87.2" r="2.15"/>
<circle cx="281.2" cy="107.2" r="2.15"/>
<circle cx="282.1" cy="155.3" r="2.15"/>
<circle cx="281.1" cy="138.2" r="2.15"/>
<circle cx="282.6" cy="144.6" r="2.15"/>
<circle cx="282.2" cy="150.6" r="2.15"/>
<circle cx="282.3" cy="144.9" r="2.15"/>
<circle cx="281.7" cy="126.0" r="2.15"/>
<circle cx="282.3" cy="144.4" r="2.15"/>
<circle cx="281.4" cy="147.9" r="2.15"/>
<circle cx="281.9" cy="155.0" r="2.15"/>
<circle cx="281.1" cy="153.8" r="2.15"/>
<circle cx="282.3" cy="155.5" r="2.15"/>
<circle cx="282.4" cy="99.7" r="2.15"/>
<circle cx="281.3" cy="98.1" r="2.15"/>
<circle cx="281.3" cy="115.7" r="2.15"/>
<circle cx="282.5" cy="118.4" r="2.15"/>
<circle cx="282.2" cy="133.5" r="2.15"/>
<circle cx="282.3" cy="110.6" r="2.15"/>
<circle cx="282.1" cy="141.9" r="2.15"/>
<circle cx="282.4" cy="153.5" r="2.15"/>
<circle cx="281.1" cy="111.7" r="2.15"/>
<circle cx="282.4" cy="130.9" r="2.15"/>
<circle cx="282.0" cy="106.5" r="2.15"/>
<circle cx="282.3" cy="145.2" r="2.15"/>
<circle cx="281.8" cy="80.4" r="2.15"/>
<circle cx="281.1" cy="81.3" r="2.15"/>
<circle cx="281.7" cy="143.4" r="2.15"/>
<circle cx="281.7" cy="127.2" r="2.15"/>
<circle cx="281.3" cy="106.2" r="2.15"/>
<circle cx="282.4" cy="107.6" r="2.15"/>
<circle cx="281.4" cy="128.3" r="2.15"/>
<circle cx="281.4" cy="86.9" r="2.15"/>
<circle cx="281.7" cy="134.7" r="2.15"/>
<circle cx="282.4" cy="131.6" r="2.15"/>
<circle cx="282.1" cy="89.4" r="2.15"/>
<circle cx="282.4" cy="83.2" r="2.15"/>
<circle cx="281.4" cy="94.4" r="2.15"/>
<circle cx="281.6" cy="154.7" r="2.15"/>
<circle cx="282.5" cy="97.5" r="2.15"/>
<circle cx="282.5" cy="127.6" r="2.15"/>
<circle cx="281.8" cy="110.8" r="2.15"/>
<circle cx="281.8" cy="154.6" r="2.15"/>
<circle cx="281.2" cy="157.1" r="2.15"/>
<circle cx="281.2" cy="144.8" r="2.15"/>
<circle cx="280.9" cy="121.1" r="2.15"/>
<circle cx="282.6" cy="93.7" r="2.15"/>
<circle cx="282.4" cy="115.5" r="2.15"/>
<circle cx="281.5" cy="99.6" r="2.15"/>
<circle cx="281.9" cy="87.9" r="2.15"/>
<circle cx="281.8" cy="147.3" r="2.15"/>
<circle cx="282.6" cy="109.4" r="2.15"/>
<circle cx="282.1" cy="149.7" r="2.15"/>
<circle cx="282.0" cy="85.9" r="2.15"/>
<circle cx="282.6" cy="114.6" r="2.15"/>
<circle cx="282.1" cy="108.2" r="2.15"/>
<circle cx="281.6" cy="129.3" r="2.15"/>
<circle cx="282.1" cy="120.7" r="2.15"/>
<circle cx="281.8" cy="150.8" r="2.15"/>
<circle cx="282.7" cy="108.4" r="2.15"/>
<circle cx="282.4" cy="84.4" r="2.15"/>
<circle cx="281.9" cy="133.3" r="2.15"/>
<circle cx="282.3" cy="114.9" r="2.15"/>
<circle cx="282.2" cy="149.5" r="2.15"/>
<circle cx="281.0" cy="138.5" r="2.15"/>
<circle cx="281.1" cy="105.4" r="2.15"/>
<circle cx="282.5" cy="154.3" r="2.15"/>
<circle cx="282.0" cy="91.3" r="2.15"/>
<circle cx="281.0" cy="125.0" r="2.15"/>
<circle cx="282.2" cy="110.6" r="2.15"/>
<circle cx="281.4" cy="130.0" r="2.15"/>
<circle cx="281.4" cy="139.5" r="2.15"/>
<circle cx="281.7" cy="122.5" r="2.15"/>
<circle cx="282.1" cy="156.3" r="2.15"/>
<circle cx="282.1" cy="142.8" r="2.15"/>
<circle cx="282.6" cy="109.7" r="2.15"/>
<circle cx="282.1" cy="135.4" r="2.15"/>
<circle cx="281.2" cy="101.6" r="2.15"/>
<circle cx="282.4" cy="124.9" r="2.15"/>
<circle cx="281.5" cy="141.9" r="2.15"/>
<circle cx="281.8" cy="90.9" r="2.15"/>
<circle cx="281.2" cy="148.4" r="2.15"/>
<circle cx="281.2" cy="137.6" r="2.15"/>
<circle cx="281.0" cy="104.3" r="2.15"/>
<circle cx="281.6" cy="103.2" r="2.15"/>
<circle cx="282.6" cy="155.4" r="2.15"/>
<circle cx="281.5" cy="94.6" r="2.15"/>
<circle cx="281.3" cy="153.6" r="2.15"/>
<circle cx="281.7" cy="105.0" r="2.15"/>
<circle cx="281.4" cy="88.5" r="2.15"/>
<circle cx="281.6" cy="110.7" r="2.15"/>
<circle cx="281.4" cy="155.2" r="2.15"/>
<circle cx="282.5" cy="95.9" r="2.15"/>
<circle cx="282.4" cy="115.1" r="2.15"/>
<circle cx="282.3" cy="129.7" r="2.15"/>
<circle cx="281.2" cy="104.6" r="2.15"/>
<circle cx="281.7" cy="139.1" r="2.15"/>
<circle cx="282.1" cy="123.6" r="2.15"/>
<circle cx="281.4" cy="138.7" r="2.15"/>
<circle cx="282.6" cy="108.3" r="2.15"/>
<circle cx="281.4" cy="121.3" r="2.15"/>
<circle cx="281.4" cy="129.2" r="2.15"/>
<circle cx="281.0" cy="140.2" r="2.15"/>
<circle cx="281.9" cy="144.5" r="2.15"/>
<circle cx="282.6" cy="107.6" r="2.15"/>
<circle cx="281.3" cy="100.7" r="2.15"/>
<circle cx="281.9" cy="85.4" r="2.15"/>
<circle cx="282.1" cy="138.8" r="2.15"/>
<circle cx="282.4" cy="112.2" r="2.15"/>
<circle cx="281.5" cy="88.7" r="2.15"/>
<circle cx="282.6" cy="130.3" r="2.15"/>
<circle cx="282.1" cy="129.4" r="2.15"/>
<circle cx="281.6" cy="140.4" r="2.15"/>
<circle cx="282.2" cy="153.3" r="2.15"/>
<circle cx="281.6" cy="106.7" r="2.15"/>
<circle cx="281.5" cy="142.8" r="2.15"/>
<circle cx="282.5" cy="94.5" r="2.15"/>
<circle cx="281.8" cy="121.5" r="2.15"/>
<circle cx="282.5" cy="132.2" r="2.15"/>
<circle cx="281.5" cy="90.4" r="2.15"/>
<circle cx="281.6" cy="85.1" r="2.15"/>
<circle cx="282.4" cy="119.2" r="2.15"/>
<circle cx="281.9" cy="132.1" r="2.15"/>
<circle cx="281.9" cy="111.5" r="2.15"/>
<circle cx="282.4" cy="101.4" r="2.15"/>
<circle cx="282.4" cy="141.5" r="2.15"/>
<circle cx="282.1" cy="91.8" r="2.15"/>
<circle cx="281.8" cy="138.8" r="2.15"/>
<circle cx="282.5" cy="150.1" r="2.15"/>
<circle cx="282.4" cy="138.0" r="2.15"/>
<circle cx="282.5" cy="130.6" r="2.15"/>
<circle cx="282.2" cy="90.2" r="2.15"/>
<circle cx="282.0" cy="134.9" r="2.15"/>
<circle cx="281.0" cy="101.5" r="2.15"/>
<circle cx="282.4" cy="127.1" r="2.15"/>
<circle cx="281.3" cy="101.3" r="2.15"/>
<circle cx="281.1" cy="97.5" r="2.15"/>
<circle cx="282.7" cy="132.7" r="2.15"/>
<circle cx="281.5" cy="142.6" r="2.15"/>
<circle cx="281.0" cy="134.6" r="2.15"/>
<circle cx="281.5" cy="145.4" r="2.15"/>
<circle cx="282.0" cy="80.3" r="2.15"/>
<circle cx="281.4" cy="90.8" r="2.15"/>
<circle cx="281.7" cy="84.6" r="2.15"/>
<circle cx="282.4" cy="123.3" r="2.15"/>
<circle cx="282.4" cy="83.1" r="2.15"/>
<circle cx="281.3" cy="88.6" r="2.15"/>
<circle cx="281.5" cy="129.1" r="2.15"/>
<circle cx="281.9" cy="105.8" r="2.15"/>
<circle cx="282.3" cy="97.0" r="2.15"/>
<circle cx="282.4" cy="96.3" r="2.15"/>
<circle cx="281.9" cy="165.3" r="2.15"/>
<circle cx="282.3" cy="158.3" r="2.15"/>
<circle cx="281.8" cy="158.3" r="2.15"/>
<circle cx="281.0" cy="161.8" r="2.15"/>
<circle cx="282.2" cy="163.7" r="2.15"/>
<circle cx="281.6" cy="163.3" r="2.15"/>
<circle cx="282.0" cy="162.6" r="2.15"/>
<circle cx="286.7" cy="63.6" r="2.15"/>
<circle cx="286.5" cy="75.9" r="2.15"/>
<circle cx="285.7" cy="75.4" r="2.15"/>
<circle cx="285.2" cy="75.8" r="2.15"/>
<circle cx="285.3" cy="67.6" r="2.15"/>
<circle cx="286.3" cy="67.3" r="2.15"/>
<circle cx="285.9" cy="71.3" r="2.15"/>
<circle cx="285.4" cy="65.5" r="2.15"/>
<circle cx="285.6" cy="101.8" r="2.15"/>
<circle cx="286.4" cy="88.4" r="2.15"/>
<circle cx="285.9" cy="109.0" r="2.15"/>
<circle cx="286.4" cy="88.7" r="2.15"/>
<circle cx="285.6" cy="88.6" r="2.15"/>
<circle cx="286.4" cy="111.9" r="2.15"/>
<circle cx="286.4" cy="138.3" r="2.15"/>
<circle cx="286.8" cy="136.7" r="2.15"/>
<circle cx="286.4" cy="122.2" r="2.15"/>
<circle cx="285.5" cy="80.0" r="2.15"/>
<circle cx="286.7" cy="76.8" r="2.15"/>
<circle cx="286.2" cy="122.2" r="2.15"/>
<circle cx="285.7" cy="92.9" r="2.15"/>
<circle cx="286.2" cy="86.5" r="2.15"/>
<circle cx="285.7" cy="139.5" r="2.15"/>
<circle cx="285.4" cy="78.8" r="2.15"/>
<circle cx="286.7" cy="98.7" r="2.15"/>
<circle cx="285.9" cy="127.5" r="2.15"/>
<circle cx="285.3" cy="82.5" r="2.15"/>
<circle cx="286.5" cy="85.8" r="2.15"/>
<circle cx="286.9" cy="106.2" r="2.15"/>
<circle cx="286.5" cy="134.4" r="2.15"/>
<circle cx="286.6" cy="106.5" r="2.15"/>
<circle cx="285.3" cy="84.2" r="2.15"/>
<circle cx="286.0" cy="112.1" r="2.15"/>
<circle cx="285.6" cy="89.4" r="2.15"/>
<circle cx="286.7" cy="77.4" r="2.15"/>
<circle cx="286.8" cy="121.5" r="2.15"/>
<circle cx="285.9" cy="138.8" r="2.15"/>
<circle cx="285.8" cy="122.9" r="2.15"/>
<circle cx="286.6" cy="128.0" r="2.15"/>
<circle cx="285.1" cy="84.6" r="2.15"/>
<circle cx="286.2" cy="89.7" r="2.15"/>
<circle cx="285.1" cy="100.3" r="2.15"/>
<circle cx="286.5" cy="129.1" r="2.15"/>
<circle cx="285.2" cy="105.7" r="2.15"/>
<circle cx="286.1" cy="132.9" r="2.15"/>
<circle cx="285.7" cy="80.5" r="2.15"/>
<circle cx="286.7" cy="116.0" r="2.15"/>
<circle cx="286.3" cy="107.0" r="2.15"/>
<circle cx="285.5" cy="89.2" r="2.15"/>
<circle cx="285.8" cy="134.0" r="2.15"/>
<circle cx="286.2" cy="82.7" r="2.15"/>
<circle cx="285.5" cy="84.1" r="2.15"/>
<circle cx="286.2" cy="105.2" r="2.15"/>
<circle cx="286.4" cy="116.7" r="2.15"/>
<circle cx="285.2" cy="104.1" r="2.15"/>
<circle cx="285.2" cy="122.4" r="2.15"/>
<circle cx="285.8" cy="106.1" r="2.15"/>
<circle cx="286.4" cy="119.1" r="2.15"/>
<circle cx="286.3" cy="91.3" r="2.15"/>
<circle cx="285.9" cy="120.3" r="2.15"/>
<circle cx="286.7" cy="85.1" r="2.15"/>
<circle cx="285.2" cy="114.3" r="2.15"/>
<circle cx="286.9" cy="91.3" r="2.15"/>
<circle cx="285.8" cy="90.6" r="2.15"/>
<circle cx="286.6" cy="126.4" r="2.15"/>
<circle cx="286.4" cy="116.6" r="2.15"/>
<circle cx="285.3" cy="78.5" r="2.15"/>
<circle cx="286.5" cy="138.5" r="2.15"/>
<circle cx="285.2" cy="78.4" r="2.15"/>
<circle cx="286.8" cy="91.4" r="2.15"/>
<circle cx="286.3" cy="90.1" r="2.15"/>
<circle cx="286.2" cy="135.5" r="2.15"/>
<circle cx="285.6" cy="134.8" r="2.15"/>
<circle cx="285.1" cy="85.8" r="2.15"/>
<circle cx="285.3" cy="124.5" r="2.15"/>
<circle cx="286.4" cy="138.3" r="2.15"/>
<circle cx="286.6" cy="88.0" r="2.15"/>
<circle cx="286.0" cy="86.4" r="2.15"/>
<circle cx="286.5" cy="82.8" r="2.15"/>
<circle cx="286.7" cy="132.9" r="2.15"/>
<circle cx="286.6" cy="76.1" r="2.15"/>
<circle cx="286.6" cy="111.6" r="2.15"/>
<circle cx="286.2" cy="108.2" r="2.15"/>
<circle cx="286.5" cy="114.1" r="2.15"/>
<circle cx="285.2" cy="81.0" r="2.15"/>
<circle cx="285.6" cy="110.9" r="2.15"/>
<circle cx="285.1" cy="101.4" r="2.15"/>
<circle cx="285.1" cy="123.7" r="2.15"/>
<circle cx="286.6" cy="129.1" r="2.15"/>
<circle cx="285.3" cy="105.3" r="2.15"/>
<circle cx="285.5" cy="117.6" r="2.15"/>
<circle cx="285.3" cy="103.5" r="2.15"/>
<circle cx="286.1" cy="138.5" r="2.15"/>
<circle cx="285.3" cy="98.6" r="2.15"/>
<circle cx="286.6" cy="122.7" r="2.15"/>
<circle cx="285.3" cy="130.3" r="2.15"/>
<circle cx="285.6" cy="99.5" r="2.15"/>
<circle cx="285.4" cy="124.8" r="2.15"/>
<circle cx="286.9" cy="114.8" r="2.15"/>
<circle cx="285.1" cy="125.2" r="2.15"/>
<circle cx="285.3" cy="80.8" r="2.15"/>
<circle cx="286.2" cy="120.3" r="2.15"/>
<circle cx="285.9" cy="109.3" r="2.15"/>
<circle cx="286.2" cy="102.1" r="2.15"/>
<circle cx="286.7" cy="117.5" r="2.15"/>
<circle cx="286.5" cy="122.9" r="2.15"/>
<circle cx="286.6" cy="134.4" r="2.15"/>
<circle cx="285.2" cy="121.9" r="2.15"/>
<circle cx="286.6" cy="146.8" r="2.15"/>
<circle cx="286.7" cy="144.3" r="2.15"/>
<circle cx="286.8" cy="141.8" r="2.15"/>
<circle cx="286.4" cy="144.4" r="2.15"/>
<circle cx="285.6" cy="142.5" r="2.15"/>
<circle cx="285.7" cy="143.5" r="2.15"/>
<circle cx="292.0" cy="81.7" r="2.15"/>
<circle cx="292.8" cy="115.8" r="2.15"/>
<circle cx="292.7" cy="125.7" r="2.15"/>
<circle cx="292.6" cy="130.8" r="2.15"/>
<circle cx="292.6" cy="141.7" r="2.15"/>
<circle cx="292.0" cy="107.9" r="2.15"/>
<circle cx="291.8" cy="114.4" r="2.15"/>
<circle cx="292.7" cy="105.8" r="2.15"/>
<circle cx="292.1" cy="138.3" r="2.15"/>
<circle cx="292.6" cy="131.2" r="2.15"/>
<circle cx="292.6" cy="136.8" r="2.15"/>
<circle cx="291.9" cy="120.0" r="2.15"/>
<circle cx="292.1" cy="133.8" r="2.15"/>
<circle cx="292.2" cy="124.5" r="2.15"/>
<circle cx="292.8" cy="120.3" r="2.15"/>
<circle cx="292.3" cy="102.6" r="2.15"/>
<circle cx="292.3" cy="125.5" r="2.15"/>
<circle cx="292.2" cy="139.1" r="2.15"/>
<circle cx="292.5" cy="137.9" r="2.15"/>
<circle cx="291.9" cy="140.5" r="2.15"/>
<circle cx="292.1" cy="105.0" r="2.15"/>
<circle cx="291.8" cy="137.6" r="2.15"/>
<circle cx="292.5" cy="107.2" r="2.15"/>
<circle cx="292.0" cy="141.5" r="2.15"/>
<circle cx="292.5" cy="115.6" r="2.15"/>
<circle cx="292.5" cy="127.5" r="2.15"/>
<circle cx="292.0" cy="130.4" r="2.15"/>
<circle cx="291.8" cy="107.1" r="2.15"/>
<circle cx="292.0" cy="127.5" r="2.15"/>
<circle cx="292.8" cy="107.2" r="2.15"/>
<circle cx="292.4" cy="125.2" r="2.15"/>
<circle cx="292.4" cy="125.8" r="2.15"/>
<circle cx="292.1" cy="127.7" r="2.15"/>
<circle cx="291.9" cy="98.0" r="2.15"/>
<circle cx="292.2" cy="95.7" r="2.15"/>
<circle cx="291.9" cy="101.7" r="2.15"/>
<circle cx="292.8" cy="118.2" r="2.15"/>
<circle cx="292.1" cy="127.3" r="2.15"/>
<circle cx="292.0" cy="131.2" r="2.15"/>
<circle cx="292.1" cy="99.7" r="2.15"/>
<circle cx="292.5" cy="153.9" r="2.15"/>
<circle cx="292.5" cy="154.9" r="2.15"/>
<circle cx="292.7" cy="144.8" r="2.15"/>
<circle cx="292.6" cy="151.9" r="2.15"/>
<circle cx="292.6" cy="142.9" r="2.15"/>
<circle cx="292.7" cy="148.6" r="2.15"/>
<circle cx="292.5" cy="165.3" r="2.15"/>
<circle cx="291.8" cy="150.1" r="2.15"/>
<circle cx="292.7" cy="147.5" r="2.15"/>
<circle cx="292.5" cy="146.6" r="2.15"/>
<circle cx="352.6" cy="88.3" r="2.15"/>
<circle cx="352.6" cy="95.0" r="2.15"/>
<circle cx="352.3" cy="104.9" r="2.15"/>
<circle cx="352.3" cy="109.3" r="2.15"/>
<circle cx="352.3" cy="118.0" r="2.15"/>
<circle cx="352.8" cy="126.0" r="2.15"/>
<circle cx="352.4" cy="133.0" r="2.15"/>
<circle cx="352.6" cy="140.0" r="2.15"/>
<circle cx="352.5" cy="147.0" r="2.15"/>
<circle cx="358.1" cy="76.9" r="2.15"/>
<circle cx="359.0" cy="74.2" r="2.15"/>
<circle cx="359.2" cy="75.7" r="2.15"/>
<circle cx="358.9" cy="78.7" r="2.15"/>
<circle cx="358.9" cy="75.8" r="2.15"/>
<circle cx="358.4" cy="77.3" r="2.15"/>
<circle cx="358.1" cy="80.8" r="2.15"/>
<circle cx="359.0" cy="77.2" r="2.15"/>
<circle cx="358.5" cy="77.7" r="2.15"/>
<circle cx="358.3" cy="83.9" r="2.15"/>
<circle cx="358.3" cy="91.5" r="2.15"/>
<circle cx="358.4" cy="95.8" r="2.15"/>
<circle cx="358.6" cy="101.8" r="2.15"/>
<circle cx="358.1" cy="107.0" r="2.15"/>
<circle cx="359.0" cy="102.3" r="2.15"/>
<circle cx="358.0" cy="92.4" r="2.15"/>
<circle cx="358.1" cy="97.1" r="2.15"/>
<circle cx="358.9" cy="97.6" r="2.15"/>
<circle cx="358.1" cy="89.2" r="2.15"/>
<circle cx="358.2" cy="98.0" r="2.15"/>
<circle cx="358.5" cy="92.3" r="2.15"/>
<circle cx="358.1" cy="89.7" r="2.15"/>
<circle cx="358.6" cy="95.3" r="2.15"/>
<circle cx="358.7" cy="108.5" r="2.15"/>
<circle cx="358.3" cy="88.6" r="2.15"/>
<circle cx="358.7" cy="104.1" r="2.15"/>
<circle cx="359.2" cy="107.0" r="2.15"/>
<circle cx="358.1" cy="106.7" r="2.15"/>
<circle cx="358.6" cy="108.7" r="2.15"/>
<circle cx="358.2" cy="92.5" r="2.15"/>
<circle cx="358.3" cy="106.9" r="2.15"/>
<circle cx="358.3" cy="88.9" r="2.15"/>
<circle cx="358.6" cy="108.3" r="2.15"/>
<circle cx="358.1" cy="103.8" r="2.15"/>
<circle cx="358.4" cy="97.4" r="2.15"/>
<circle cx="358.8" cy="91.7" r="2.15"/>
<circle cx="358.1" cy="95.3" r="2.15"/>
<circle cx="358.6" cy="109.6" r="2.15"/>
<circle cx="358.0" cy="91.1" r="2.15"/>
<circle cx="358.6" cy="102.0" r="2.15"/>
<circle cx="358.6" cy="87.6" r="2.15"/>
<circle cx="358.6" cy="104.0" r="2.15"/>
<circle cx="358.6" cy="92.4" r="2.15"/>
<circle cx="358.8" cy="100.9" r="2.15"/>
<circle cx="359.0" cy="90.3" r="2.15"/>
<circle cx="358.9" cy="139.3" r="2.15"/>
<circle cx="358.4" cy="136.6" r="2.15"/>
<circle cx="358.2" cy="138.0" r="2.15"/>
<circle cx="358.7" cy="117.0" r="2.15"/>
<circle cx="358.1" cy="137.9" r="2.15"/>
<circle cx="358.0" cy="116.7" r="2.15"/>
<circle cx="358.2" cy="123.6" r="2.15"/>
<circle cx="358.9" cy="115.9" r="2.15"/>
<circle cx="359.1" cy="128.1" r="2.15"/>
<circle cx="358.8" cy="122.5" r="2.15"/>
<circle cx="359.1" cy="110.4" r="2.15"/>
<circle cx="358.6" cy="117.2" r="2.15"/>
<circle cx="359.1" cy="125.9" r="2.15"/>
<circle cx="359.2" cy="125.3" r="2.15"/>
<circle cx="358.3" cy="129.3" r="2.15"/>
<circle cx="358.2" cy="135.9" r="2.15"/>
<circle cx="358.5" cy="141.0" r="2.15"/>
<circle cx="359.2" cy="117.0" r="2.15"/>
<circle cx="358.5" cy="120.0" r="2.15"/>
<circle cx="358.8" cy="120.6" r="2.15"/>
<circle cx="358.4" cy="110.7" r="2.15"/>
<circle cx="359.0" cy="115.0" r="2.15"/>
<circle cx="358.7" cy="110.0" r="2.15"/>
<circle cx="358.5" cy="118.0" r="2.15"/>
<circle cx="358.9" cy="127.4" r="2.15"/>
<circle cx="358.3" cy="114.3" r="2.15"/>
<circle cx="359.2" cy="113.7" r="2.15"/>
<circle cx="358.2" cy="114.6" r="2.15"/>
<circle cx="358.7" cy="126.2" r="2.15"/>
<circle cx="358.1" cy="137.5" r="2.15"/>
<circle cx="358.2" cy="117.3" r="2.15"/>
<circle cx="358.5" cy="128.2" r="2.15"/>
<circle cx="359.1" cy="122.7" r="2.15"/>
<circle cx="359.0" cy="130.5" r="2.15"/>
<circle cx="358.3" cy="139.7" r="2.15"/>
<circle cx="358.5" cy="139.2" r="2.15"/>
<circle cx="359.1" cy="111.6" r="2.15"/>
<circle cx="358.3" cy="149.4" r="2.15"/>
<circle cx="367.2" cy="77.4" r="2.15"/>
<circle cx="368.1" cy="99.1" r="2.15"/>
<circle cx="367.4" cy="145.6" r="2.15"/>
<circle cx="367.9" cy="118.4" r="2.15"/>
<circle cx="367.7" cy="140.6" r="2.15"/>
<circle cx="367.0" cy="117.0" r="2.15"/>
<circle cx="367.7" cy="95.5" r="2.15"/>
<circle cx="367.9" cy="122.9" r="2.15"/>
<circle cx="368.1" cy="147.9" r="2.15"/>
<circle cx="367.0" cy="91.4" r="2.15"/>
<circle cx="367.6" cy="147.8" r="2.15"/>
<circle cx="367.7" cy="90.5" r="2.15"/>
<circle cx="367.2" cy="96.5" r="2.15"/>
<circle cx="367.5" cy="105.3" r="2.15"/>
<circle cx="367.0" cy="130.2" r="2.15"/>
<circle cx="367.6" cy="135.3" r="2.15"/>
<circle cx="367.7" cy="113.7" r="2.15"/>
<circle cx="366.9" cy="140.0" r="2.15"/>
<circle cx="367.7" cy="114.0" r="2.15"/>
<circle cx="367.7" cy="132.7" r="2.15"/>
<circle cx="368.1" cy="90.4" r="2.15"/>
<circle cx="367.2" cy="138.9" r="2.15"/>
<circle cx="368.0" cy="110.5" r="2.15"/>
<circle cx="367.4" cy="92.6" r="2.15"/>
<circle cx="368.0" cy="152.9" r="2.15"/>
<circle cx="367.8" cy="94.6" r="2.15"/>
<circle cx="367.7" cy="104.8" r="2.15"/>
<circle cx="367.1" cy="137.4" r="2.15"/>
<circle cx="367.2" cy="93.8" r="2.15"/>
<circle cx="366.9" cy="97.3" r="2.15"/>
<circle cx="367.4" cy="86.9" r="2.15"/>
<circle cx="367.0" cy="109.7" r="2.15"/>
<circle cx="368.0" cy="122.6" r="2.15"/>
<circle cx="367.3" cy="122.2" r="2.15"/>
<circle cx="367.4" cy="132.4" r="2.15"/>
<circle cx="367.5" cy="90.0" r="2.15"/>
<circle cx="367.7" cy="77.4" r="2.15"/>
<circle cx="367.3" cy="88.9" r="2.15"/>
<circle cx="367.8" cy="153.0" r="2.15"/>
<circle cx="367.7" cy="142.8" r="2.15"/>
<circle cx="367.7" cy="126.8" r="2.15"/>
<circle cx="367.1" cy="153.3" r="2.15"/>
<circle cx="367.3" cy="137.3" r="2.15"/>
<circle cx="367.9" cy="96.5" r="2.15"/>
<circle cx="367.9" cy="124.1" r="2.15"/>
<circle cx="372.7" cy="93.8" r="2.15"/>
<circle cx="371.8" cy="87.0" r="2.15"/>
<circle cx="373.0" cy="90.3" r="2.15"/>
<circle cx="371.9" cy="87.7" r="2.15"/>
<circle cx="372.1" cy="85.0" r="2.15"/>
<circle cx="371.8" cy="92.0" r="2.15"/>
<circle cx="372.2" cy="87.3" r="2.15"/>
<circle cx="373.4" cy="92.1" r="2.15"/>
<circle cx="372.0" cy="85.2" r="2.15"/>
<circle cx="373.4" cy="94.3" r="2.15"/>
<circle cx="372.3" cy="86.5" r="2.15"/>
<circle cx="372.3" cy="123.7" r="2.15"/>
<circle cx="372.6" cy="118.0" r="2.15"/>
<circle cx="371.9" cy="109.2" r="2.15"/>
<circle cx="372.1" cy="99.6" r="2.15"/>
<circle cx="372.8" cy="100.0" r="2.15"/>
<circle cx="372.2" cy="133.3" r="2.15"/>
<circle cx="373.0" cy="138.5" r="2.15"/>
<circle cx="372.6" cy="113.8" r="2.15"/>
<circle cx="373.3" cy="105.4" r="2.15"/>
<circle cx="371.9" cy="125.8" r="2.15"/>
<circle cx="372.9" cy="103.5" r="2.15"/>
<circle cx="372.9" cy="116.2" r="2.15"/>
<circle cx="373.1" cy="107.6" r="2.15"/>
<circle cx="372.0" cy="139.1" r="2.15"/>
<circle cx="372.1" cy="127.2" r="2.15"/>
<circle cx="373.1" cy="133.9" r="2.15"/>
<circle cx="372.2" cy="138.5" r="2.15"/>
<circle cx="372.9" cy="100.1" r="2.15"/>
<circle cx="372.0" cy="126.1" r="2.15"/>
<circle cx="372.7" cy="105.6" r="2.15"/>
<circle cx="372.8" cy="100.9" r="2.15"/>
<circle cx="372.2" cy="108.3" r="2.15"/>
<circle cx="372.7" cy="118.3" r="2.15"/>
<circle cx="371.8" cy="134.8" r="2.15"/>
<circle cx="372.2" cy="134.8" r="2.15"/>
<circle cx="372.8" cy="111.0" r="2.15"/>
<circle cx="372.8" cy="133.0" r="2.15"/>
<circle cx="372.1" cy="144.6" r="2.15"/>
<circle cx="372.9" cy="112.1" r="2.15"/>
<circle cx="372.1" cy="109.3" r="2.15"/>
<circle cx="373.0" cy="107.4" r="2.15"/>
<circle cx="372.9" cy="140.5" r="2.15"/>
<circle cx="373.1" cy="147.7" r="2.15"/>
<circle cx="372.3" cy="112.0" r="2.15"/>
<circle cx="371.9" cy="134.7" r="2.15"/>
<circle cx="371.9" cy="128.5" r="2.15"/>
<circle cx="372.6" cy="97.7" r="2.15"/>
<circle cx="373.3" cy="103.3" r="2.15"/>
<circle cx="372.5" cy="143.3" r="2.15"/>
<circle cx="372.0" cy="105.9" r="2.15"/>
<circle cx="372.6" cy="122.9" r="2.15"/>
<circle cx="372.9" cy="115.0" r="2.15"/>
<circle cx="373.0" cy="124.1" r="2.15"/>
<circle cx="371.9" cy="100.8" r="2.15"/>
<circle cx="372.6" cy="116.3" r="2.15"/>
<circle cx="372.9" cy="108.9" r="2.15"/>
<circle cx="372.3" cy="107.2" r="2.15"/>
<circle cx="372.9" cy="121.2" r="2.15"/>
<circle cx="372.4" cy="137.4" r="2.15"/>
<circle cx="373.3" cy="119.6" r="2.15"/>
<circle cx="372.8" cy="146.4" r="2.15"/>
<circle cx="372.5" cy="100.8" r="2.15"/>
<circle cx="372.2" cy="130.0" r="2.15"/>
<circle cx="373.4" cy="97.1" r="2.15"/>
<circle cx="372.0" cy="145.0" r="2.15"/>
<circle cx="372.8" cy="120.6" r="2.15"/>
<circle cx="371.9" cy="111.5" r="2.15"/>
<circle cx="373.0" cy="136.3" r="2.15"/>
<circle cx="371.9" cy="119.1" r="2.15"/>
<circle cx="372.0" cy="116.7" r="2.15"/>
<circle cx="371.9" cy="148.0" r="2.15"/>
<circle cx="373.0" cy="110.8" r="2.15"/>
<circle cx="372.0" cy="102.4" r="2.15"/>
<circle cx="372.1" cy="98.9" r="2.15"/>
<circle cx="373.1" cy="124.3" r="2.15"/>
<circle cx="372.1" cy="104.3" r="2.15"/>
<circle cx="372.5" cy="137.1" r="2.15"/>
<circle cx="372.0" cy="113.6" r="2.15"/>
<circle cx="373.4" cy="108.4" r="2.15"/>
<circle cx="372.2" cy="101.4" r="2.15"/>
<circle cx="373.2" cy="135.7" r="2.15"/>
<circle cx="372.6" cy="144.7" r="2.15"/>
<circle cx="372.8" cy="147.6" r="2.15"/>
<circle cx="372.5" cy="110.9" r="2.15"/>
<circle cx="373.0" cy="134.4" r="2.15"/>
<circle cx="372.1" cy="102.1" r="2.15"/>
<circle cx="372.0" cy="147.7" r="2.15"/>
<circle cx="372.3" cy="139.7" r="2.15"/>
<circle cx="372.2" cy="108.6" r="2.15"/>
<circle cx="373.4" cy="120.8" r="2.15"/>
<circle cx="373.2" cy="103.2" r="2.15"/>
<circle cx="372.1" cy="112.7" r="2.15"/>
<circle cx="372.3" cy="136.0" r="2.15"/>
<circle cx="372.5" cy="105.3" r="2.15"/>
<circle cx="373.2" cy="140.2" r="2.15"/>
<circle cx="371.8" cy="126.6" r="2.15"/>
<circle cx="372.8" cy="137.0" r="2.15"/>
<circle cx="373.3" cy="144.5" r="2.15"/>
<circle cx="373.2" cy="113.0" r="2.15"/>
<circle cx="372.2" cy="140.0" r="2.15"/>
<circle cx="372.4" cy="115.1" r="2.15"/>
<circle cx="372.4" cy="114.4" r="2.15"/>
<circle cx="372.2" cy="101.1" r="2.15"/>
<circle cx="372.5" cy="145.0" r="2.15"/>
<circle cx="373.2" cy="130.0" r="2.15"/>
<circle cx="372.2" cy="136.6" r="2.15"/>
<circle cx="373.1" cy="145.6" r="2.15"/>
<circle cx="373.0" cy="149.5" r="2.15"/>
<circle cx="373.1" cy="136.5" r="2.15"/>
<circle cx="372.8" cy="108.9" r="2.15"/>
<circle cx="373.1" cy="115.9" r="2.15"/>
<circle cx="372.7" cy="102.3" r="2.15"/>
<circle cx="373.1" cy="113.5" r="2.15"/>
<circle cx="373.2" cy="114.0" r="2.15"/>
<circle cx="373.2" cy="141.6" r="2.15"/>
<circle cx="373.3" cy="102.6" r="2.15"/>
<circle cx="372.9" cy="135.9" r="2.15"/>
<circle cx="371.9" cy="130.9" r="2.15"/>
<circle cx="372.7" cy="142.9" r="2.15"/>
<circle cx="372.3" cy="120.1" r="2.15"/>
<circle cx="373.1" cy="138.1" r="2.15"/>
<circle cx="372.1" cy="142.8" r="2.15"/>
<circle cx="372.2" cy="113.7" r="2.15"/>
<circle cx="372.3" cy="100.5" r="2.15"/>
<circle cx="373.1" cy="96.4" r="2.15"/>
<circle cx="371.9" cy="107.5" r="2.15"/>
<circle cx="373.0" cy="98.7" r="2.15"/>
<circle cx="372.5" cy="105.9" r="2.15"/>
<circle cx="373.1" cy="117.1" r="2.15"/>
<circle cx="372.3" cy="147.5" r="2.15"/>
<circle cx="373.2" cy="129.8" r="2.15"/>
<circle cx="373.2" cy="120.9" r="2.15"/>
<circle cx="372.3" cy="135.4" r="2.15"/>
<circle cx="372.7" cy="143.1" r="2.15"/>
<circle cx="372.7" cy="100.8" r="2.15"/>
<circle cx="372.6" cy="140.6" r="2.15"/>
<circle cx="372.5" cy="121.6" r="2.15"/>
<circle cx="372.9" cy="143.4" r="2.15"/>
<circle cx="372.4" cy="106.4" r="2.15"/>
<circle cx="373.3" cy="115.0" r="2.15"/>
<circle cx="372.0" cy="133.3" r="2.15"/>
<circle cx="371.9" cy="145.3" r="2.15"/>
<circle cx="372.5" cy="127.5" r="2.15"/>
<circle cx="372.5" cy="134.5" r="2.15"/>
<circle cx="372.6" cy="100.1" r="2.15"/>
<circle cx="373.1" cy="140.1" r="2.15"/>
<circle cx="372.2" cy="114.6" r="2.15"/>
<circle cx="373.1" cy="136.0" r="2.15"/>
<circle cx="373.2" cy="107.0" r="2.15"/>
<circle cx="372.5" cy="149.6" r="2.15"/>
<circle cx="372.9" cy="115.9" r="2.15"/>
<circle cx="372.1" cy="146.1" r="2.15"/>
<circle cx="372.3" cy="111.6" r="2.15"/>
<circle cx="372.1" cy="135.3" r="2.15"/>
<circle cx="372.6" cy="125.1" r="2.15"/>
<circle cx="372.0" cy="131.8" r="2.15"/>
<circle cx="373.4" cy="147.6" r="2.15"/>
<circle cx="373.1" cy="125.9" r="2.15"/>
<circle cx="373.3" cy="105.1" r="2.15"/>
<circle cx="373.0" cy="125.3" r="2.15"/>
<circle cx="372.4" cy="142.8" r="2.15"/>
<circle cx="372.1" cy="145.8" r="2.15"/>
<circle cx="372.6" cy="96.3" r="2.15"/>
<circle cx="373.2" cy="144.4" r="2.15"/>
<circle cx="372.6" cy="147.5" r="2.15"/>
<circle cx="372.7" cy="146.3" r="2.15"/>
<circle cx="372.8" cy="102.9" r="2.15"/>
<circle cx="372.5" cy="139.2" r="2.15"/>
<circle cx="372.2" cy="128.1" r="2.15"/>
<circle cx="372.5" cy="110.2" r="2.15"/>
<circle cx="372.5" cy="123.2" r="2.15"/>
<circle cx="371.8" cy="100.1" r="2.15"/>
<circle cx="372.9" cy="113.7" r="2.15"/>
<circle cx="372.2" cy="136.2" r="2.15"/>
<circle cx="372.6" cy="109.1" r="2.15"/>
<circle cx="372.8" cy="104.7" r="2.15"/>
<circle cx="372.1" cy="144.7" r="2.15"/>
<circle cx="373.0" cy="127.2" r="2.15"/>
<circle cx="372.9" cy="136.2" r="2.15"/>
<circle cx="372.2" cy="134.1" r="2.15"/>
<circle cx="373.3" cy="141.1" r="2.15"/>
<circle cx="373.3" cy="97.9" r="2.15"/>
<circle cx="371.9" cy="119.3" r="2.15"/>
<circle cx="373.1" cy="98.8" r="2.15"/>
<circle cx="372.0" cy="132.3" r="2.15"/>
<circle cx="372.8" cy="120.3" r="2.15"/>
<circle cx="372.3" cy="149.9" r="2.15"/>
<circle cx="372.2" cy="137.2" r="2.15"/>
<circle cx="372.1" cy="105.9" r="2.15"/>
<circle cx="372.8" cy="117.6" r="2.15"/>
<circle cx="372.1" cy="111.7" r="2.15"/>
<circle cx="371.9" cy="107.0" r="2.15"/>
<circle cx="372.3" cy="105.6" r="2.15"/>
<circle cx="372.1" cy="122.8" r="2.15"/>
<circle cx="372.5" cy="121.4" r="2.15"/>
<circle cx="372.6" cy="148.5" r="2.15"/>
<circle cx="372.6" cy="147.0" r="2.15"/>
<circle cx="372.7" cy="105.9" r="2.15"/>
<circle cx="372.1" cy="103.0" r="2.15"/>
<circle cx="372.9" cy="99.0" r="2.15"/>
<circle cx="372.4" cy="148.2" r="2.15"/>
<circle cx="372.5" cy="114.5" r="2.15"/>
<circle cx="372.9" cy="114.4" r="2.15"/>
<circle cx="372.0" cy="116.6" r="2.15"/>
<circle cx="372.7" cy="142.5" r="2.15"/>
<circle cx="373.2" cy="95.4" r="2.15"/>
<circle cx="372.4" cy="135.1" r="2.15"/>
<circle cx="373.3" cy="129.6" r="2.15"/>
<circle cx="372.5" cy="117.1" r="2.15"/>
<circle cx="372.7" cy="111.4" r="2.15"/>
<circle cx="373.0" cy="131.5" r="2.15"/>
<circle cx="372.0" cy="170.9" r="2.15"/>
<circle cx="373.2" cy="158.0" r="2.15"/>
<circle cx="372.7" cy="167.4" r="2.15"/>
<circle cx="372.3" cy="164.9" r="2.15"/>
<circle cx="372.7" cy="170.8" r="2.15"/>
<circle cx="372.1" cy="158.9" r="2.15"/>
<circle cx="373.2" cy="152.5" r="2.15"/>
<circle cx="371.8" cy="167.6" r="2.15"/>
<circle cx="372.6" cy="157.1" r="2.15"/>
<circle cx="372.4" cy="160.9" r="2.15"/>
<circle cx="372.4" cy="169.7" r="2.15"/>
<circle cx="373.3" cy="161.7" r="2.15"/>
<circle cx="372.6" cy="164.1" r="2.15"/>
<circle cx="372.4" cy="157.3" r="2.15"/>
<circle cx="373.1" cy="163.4" r="2.15"/>
<circle cx="372.4" cy="155.7" r="2.15"/>
<circle cx="372.4" cy="158.5" r="2.15"/>
<circle cx="372.7" cy="170.1" r="2.15"/>
<circle cx="372.3" cy="156.1" r="2.15"/>
<circle cx="372.1" cy="168.1" r="2.15"/>
<circle cx="371.8" cy="165.2" r="2.15"/>
<circle cx="399.6" cy="93.5" r="2.15"/>
<circle cx="399.5" cy="93.5" r="2.15"/>
<circle cx="399.8" cy="93.6" r="2.15"/>
<circle cx="399.6" cy="93.4" r="2.15"/>
<circle cx="399.6" cy="93.5" r="2.15"/>
<circle cx="399.5" cy="106.8" r="2.15"/>
<circle cx="399.6" cy="123.3" r="2.15"/>
<circle cx="399.8" cy="129.3" r="2.15"/>
<circle cx="399.8" cy="132.3" r="2.15"/>
<circle cx="399.9" cy="149.4" r="2.15"/>
<circle cx="399.9" cy="155.5" r="2.15"/>
<circle cx="399.7" cy="159.5" r="2.15"/>
<circle cx="410.7" cy="94.0" r="2.15"/>
<circle cx="411.0" cy="94.0" r="2.15"/>
<circle cx="411.3" cy="84.5" r="2.15"/>
<circle cx="411.0" cy="93.2" r="2.15"/>
<circle cx="411.5" cy="83.2" r="2.15"/>
<circle cx="411.2" cy="91.8" r="2.15"/>
<circle cx="410.6" cy="124.3" r="2.15"/>
<circle cx="410.7" cy="96.7" r="2.15"/>
<circle cx="411.3" cy="95.7" r="2.15"/>
<circle cx="410.7" cy="113.9" r="2.15"/>
<circle cx="410.8" cy="99.9" r="2.15"/>
<circle cx="411.3" cy="113.3" r="2.15"/>
<circle cx="411.0" cy="124.1" r="2.15"/>
<circle cx="411.0" cy="124.4" r="2.15"/>
<circle cx="410.9" cy="106.7" r="2.15"/>
<circle cx="411.6" cy="102.0" r="2.15"/>
<circle cx="411.3" cy="124.8" r="2.15"/>
<circle cx="410.8" cy="100.3" r="2.15"/>
<circle cx="411.0" cy="99.6" r="2.15"/>
<circle cx="410.7" cy="117.1" r="2.15"/>
<circle cx="411.3" cy="110.9" r="2.15"/>
<circle cx="411.0" cy="96.0" r="2.15"/>
<circle cx="411.2" cy="118.7" r="2.15"/>
<circle cx="411.5" cy="108.5" r="2.15"/>
<circle cx="410.9" cy="113.0" r="2.15"/>
<circle cx="411.5" cy="106.9" r="2.15"/>
<circle cx="411.5" cy="120.8" r="2.15"/>
<circle cx="410.7" cy="111.8" r="2.15"/>
<circle cx="411.0" cy="100.3" r="2.15"/>
<circle cx="410.6" cy="115.7" r="2.15"/>
<circle cx="411.4" cy="119.1" r="2.15"/>
<circle cx="410.6" cy="110.4" r="2.15"/>
<circle cx="411.0" cy="118.9" r="2.15"/>
<circle cx="411.2" cy="115.1" r="2.15"/>
<circle cx="411.0" cy="116.9" r="2.15"/>
<circle cx="411.6" cy="123.8" r="2.15"/>
<circle cx="411.2" cy="167.7" r="2.15"/>
<circle cx="411.0" cy="139.6" r="2.15"/>
<circle cx="411.5" cy="137.4" r="2.15"/>
<circle cx="411.4" cy="161.4" r="2.15"/>
<circle cx="411.6" cy="162.8" r="2.15"/>
<circle cx="410.9" cy="156.6" r="2.15"/>
<circle cx="410.9" cy="159.8" r="2.15"/>
<circle cx="410.8" cy="153.1" r="2.15"/>
<circle cx="411.1" cy="164.5" r="2.15"/>
<circle cx="411.5" cy="137.7" r="2.15"/>
<circle cx="411.5" cy="128.8" r="2.15"/>
<circle cx="410.7" cy="159.8" r="2.15"/>
<circle cx="411.2" cy="160.0" r="2.15"/>
<circle cx="411.2" cy="166.7" r="2.15"/>
<circle cx="411.5" cy="144.7" r="2.15"/>
<circle cx="411.4" cy="129.0" r="2.15"/>
<circle cx="410.9" cy="129.7" r="2.15"/>
<circle cx="411.5" cy="130.2" r="2.15"/>
<circle cx="411.3" cy="145.3" r="2.15"/>
<circle cx="411.3" cy="136.8" r="2.15"/>
<circle cx="410.7" cy="154.8" r="2.15"/>
<circle cx="411.3" cy="147.7" r="2.15"/>
<circle cx="411.3" cy="134.9" r="2.15"/>
<circle cx="411.0" cy="137.8" r="2.15"/>
<circle cx="411.5" cy="167.3" r="2.15"/>
<circle cx="411.0" cy="170.9" r="2.15"/>
<circle cx="431.5" cy="95.2" r="2.15"/>
<circle cx="431.2" cy="99.4" r="2.15"/>
<circle cx="431.1" cy="101.9" r="2.15"/>
<circle cx="431.2" cy="103.9" r="2.15"/>
<circle cx="431.4" cy="84.7" r="2.15"/>
<circle cx="431.4" cy="85.3" r="2.15"/>
<circle cx="431.7" cy="83.2" r="2.15"/>
<circle cx="431.4" cy="94.4" r="2.15"/>
<circle cx="431.3" cy="85.0" r="2.15"/>
<circle cx="430.9" cy="90.7" r="2.15"/>
<circle cx="430.7" cy="121.3" r="2.15"/>
<circle cx="430.8" cy="114.6" r="2.15"/>
<circle cx="431.6" cy="122.0" r="2.15"/>
<circle cx="431.2" cy="105.7" r="2.15"/>
<circle cx="431.4" cy="114.4" r="2.15"/>
<circle cx="431.0" cy="119.6" r="2.15"/>
<circle cx="430.9" cy="123.7" r="2.15"/>
<circle cx="431.5" cy="107.7" r="2.15"/>
<circle cx="430.9" cy="107.4" r="2.15"/>
<circle cx="431.0" cy="115.0" r="2.15"/>
<circle cx="431.6" cy="108.3" r="2.15"/>
<circle cx="431.5" cy="114.5" r="2.15"/>
<circle cx="431.6" cy="110.0" r="2.15"/>
<circle cx="431.6" cy="109.4" r="2.15"/>
<circle cx="431.7" cy="117.3" r="2.15"/>
<circle cx="431.3" cy="120.4" r="2.15"/>
<circle cx="431.6" cy="115.7" r="2.15"/>
<circle cx="430.8" cy="113.9" r="2.15"/>
<circle cx="431.5" cy="123.3" r="2.15"/>
<circle cx="431.4" cy="118.6" r="2.15"/>
<circle cx="431.2" cy="109.6" r="2.15"/>
<circle cx="431.7" cy="121.5" r="2.15"/>
<circle cx="430.9" cy="123.5" r="2.15"/>
<circle cx="431.3" cy="118.7" r="2.15"/>
<circle cx="430.9" cy="141.6" r="2.15"/>
<circle cx="431.2" cy="130.6" r="2.15"/>
<circle cx="431.0" cy="145.2" r="2.15"/>
<circle cx="431.3" cy="140.1" r="2.15"/>
<circle cx="431.3" cy="156.2" r="2.15"/>
<circle cx="431.6" cy="131.6" r="2.15"/>
<circle cx="431.7" cy="140.1" r="2.15"/>
<circle cx="430.8" cy="165.2" r="2.15"/>
<circle cx="431.7" cy="148.9" r="2.15"/>
<circle cx="431.2" cy="140.8" r="2.15"/>
<circle cx="430.7" cy="137.9" r="2.15"/>
<circle cx="430.8" cy="133.4" r="2.15"/>
<circle cx="431.3" cy="136.7" r="2.15"/>
<circle cx="431.6" cy="148.1" r="2.15"/>
<circle cx="431.1" cy="153.1" r="2.15"/>
<circle cx="431.3" cy="163.9" r="2.15"/>
<circle cx="431.6" cy="147.3" r="2.15"/>
<circle cx="431.1" cy="152.5" r="2.15"/>
<circle cx="431.0" cy="149.8" r="2.15"/>
<circle cx="430.9" cy="164.7" r="2.15"/>
<circle cx="430.8" cy="164.9" r="2.15"/>
<circle cx="442.8" cy="87.1" r="2.15"/>
<circle cx="442.7" cy="88.6" r="2.15"/>
<circle cx="443.0" cy="87.9" r="2.15"/>
<circle cx="442.9" cy="111.1" r="2.15"/>
<circle cx="443.2" cy="117.2" r="2.15"/>
<circle cx="442.9" cy="111.3" r="2.15"/>
<circle cx="442.2" cy="95.0" r="2.15"/>
<circle cx="443.2" cy="105.2" r="2.15"/>
<circle cx="442.8" cy="102.5" r="2.15"/>
<circle cx="442.6" cy="95.2" r="2.15"/>
<circle cx="442.8" cy="116.7" r="2.15"/>
<circle cx="442.2" cy="114.8" r="2.15"/>
<circle cx="442.4" cy="99.9" r="2.15"/>
<circle cx="442.3" cy="115.0" r="2.15"/>
<circle cx="442.5" cy="117.4" r="2.15"/>
<circle cx="442.7" cy="116.1" r="2.15"/>
<circle cx="443.2" cy="102.8" r="2.15"/>
<circle cx="442.9" cy="104.7" r="2.15"/>
<circle cx="443.0" cy="96.6" r="2.15"/>
<circle cx="442.3" cy="118.5" r="2.15"/>
<circle cx="442.5" cy="112.9" r="2.15"/>
<circle cx="442.6" cy="98.6" r="2.15"/>
<circle cx="443.2" cy="110.9" r="2.15"/>
<circle cx="443.2" cy="118.9" r="2.15"/>
<circle cx="442.9" cy="110.0" r="2.15"/>
<circle cx="442.9" cy="98.9" r="2.15"/>
<circle cx="442.6" cy="108.2" r="2.15"/>
<circle cx="442.5" cy="116.6" r="2.15"/>
<circle cx="442.4" cy="98.4" r="2.15"/>
<circle cx="442.8" cy="98.6" r="2.15"/>
<circle cx="442.4" cy="114.2" r="2.15"/>
<circle cx="442.8" cy="129.1" r="2.15"/>
<circle cx="442.6" cy="130.2" r="2.15"/>
<circle cx="442.2" cy="129.9" r="2.15"/>
<circle cx="442.6" cy="120.2" r="2.15"/>
<circle cx="443.0" cy="123.7" r="2.15"/>
<circle cx="443.0" cy="123.8" r="2.15"/>
<circle cx="442.3" cy="123.8" r="2.15"/>
<circle cx="442.6" cy="128.5" r="2.15"/>
<circle cx="443.0" cy="125.7" r="2.15"/>
<circle cx="442.9" cy="123.4" r="2.15"/>
<circle cx="442.7" cy="135.7" r="2.15"/>
<circle cx="443.1" cy="146.0" r="2.15"/>
<circle cx="442.4" cy="147.5" r="2.15"/>
<circle cx="442.3" cy="140.0" r="2.15"/>
<circle cx="442.3" cy="143.6" r="2.15"/>
<circle cx="442.6" cy="148.1" r="2.15"/>
<circle cx="442.7" cy="143.3" r="2.15"/>
<circle cx="442.4" cy="152.1" r="2.15"/>
<circle cx="442.5" cy="141.2" r="2.15"/>
<circle cx="443.1" cy="143.5" r="2.15"/>
<circle cx="442.6" cy="148.9" r="2.15"/>
<circle cx="442.2" cy="141.3" r="2.15"/>
<circle cx="443.0" cy="140.7" r="2.15"/>
<circle cx="442.4" cy="148.1" r="2.15"/>
<circle cx="442.3" cy="147.8" r="2.15"/>
<circle cx="442.5" cy="146.1" r="2.15"/>
<circle cx="442.9" cy="154.3" r="2.15"/>
<circle cx="442.7" cy="162.3" r="2.15"/>
<circle cx="442.9" cy="155.2" r="2.15"/>
<circle cx="442.9" cy="158.6" r="2.15"/>
<circle cx="443.1" cy="154.2" r="2.15"/>
</g>
<g fill="#d2b48c" fill-opacity="0.23" stroke="#d2b48c" stroke-opacity="0.22" stroke-width="0.6">
<circle cx="508.4" cy="71.3" r="2.15"/>
<circle cx="508.7" cy="78.1" r="2.15"/>
<circle cx="508.9" cy="87.2" r="2.15"/>
<circle cx="508.6" cy="90.4" r="2.15"/>
<circle cx="508.5" cy="94.6" r="2.15"/>
<circle cx="509.2" cy="98.8" r="2.15"/>
<circle cx="509.6" cy="102.6" r="2.15"/>
<circle cx="508.8" cy="107.3" r="2.15"/>
<circle cx="508.7" cy="112.5" r="2.15"/>
<circle cx="509.2" cy="116.8" r="2.15"/>
<circle cx="508.7" cy="120.0" r="2.15"/>
<circle cx="508.9" cy="123.0" r="2.15"/>
<circle cx="509.2" cy="127.3" r="2.15"/>
<circle cx="508.9" cy="133.7" r="2.15"/>
<circle cx="508.6" cy="137.9" r="2.15"/>
<circle cx="508.5" cy="143.2" r="2.15"/>
<circle cx="509.1" cy="153.7" r="2.15"/>
<circle cx="509.6" cy="90.0" r="2.15"/>
<circle cx="509.5" cy="110.0" r="2.15"/>
<circle cx="508.5" cy="118.0" r="2.15"/>
<circle cx="509.0" cy="121.0" r="2.15"/>
<circle cx="513.6" cy="103.0" r="2.15"/>
<circle cx="513.4" cy="120.0" r="2.15"/>
<circle cx="513.7" cy="143.2" r="2.15"/>
<circle cx="513.6" cy="149.5" r="2.15"/>
<circle cx="513.8" cy="164.3" r="2.15"/>
<circle cx="525.0" cy="73.5" r="2.15"/>
<circle cx="525.5" cy="80.2" r="2.15"/>
<circle cx="525.5" cy="97.7" r="2.15"/>
<circle cx="525.2" cy="103.0" r="2.15"/>
<circle cx="524.9" cy="112.5" r="2.15"/>
<circle cx="525.2" cy="116.8" r="2.15"/>
<circle cx="524.9" cy="121.0" r="2.15"/>
<circle cx="525.3" cy="133.7" r="2.15"/>
<circle cx="525.4" cy="134.0" r="2.15"/>
<circle cx="550.6" cy="81.8" r="2.15"/>
<circle cx="549.3" cy="76.5" r="2.15"/>
<circle cx="546.4" cy="84.0" r="2.15"/>
<circle cx="546.2" cy="79.2" r="2.15"/>
<circle cx="549.4" cy="116.9" r="2.15"/>
<circle cx="549.2" cy="104.4" r="2.15"/>
<circle cx="549.3" cy="105.4" r="2.15"/>
<circle cx="550.6" cy="100.7" r="2.15"/>
<circle cx="545.9" cy="109.2" r="2.15"/>
<circle cx="549.4" cy="90.8" r="2.15"/>
<circle cx="549.0" cy="131.8" r="2.15"/>
<circle cx="550.1" cy="94.2" r="2.15"/>
<circle cx="546.5" cy="124.0" r="2.15"/>
<circle cx="549.1" cy="106.2" r="2.15"/>
<circle cx="546.1" cy="86.2" r="2.15"/>
<circle cx="550.1" cy="104.7" r="2.15"/>
<circle cx="547.4" cy="138.8" r="2.15"/>
<circle cx="549.7" cy="134.2" r="2.15"/>
<circle cx="548.7" cy="131.9" r="2.15"/>
<circle cx="549.0" cy="137.4" r="2.15"/>
<circle cx="548.6" cy="136.2" r="2.15"/>
<circle cx="548.4" cy="96.4" r="2.15"/>
<circle cx="547.5" cy="111.6" r="2.15"/>
<circle cx="548.4" cy="105.8" r="2.15"/>
<circle cx="547.0" cy="117.2" r="2.15"/>
<circle cx="548.3" cy="100.7" r="2.15"/>
<circle cx="547.9" cy="112.7" r="2.15"/>
<circle cx="546.8" cy="121.2" r="2.15"/>
<circle cx="547.2" cy="114.2" r="2.15"/>
<circle cx="549.3" cy="126.8" r="2.15"/>
<circle cx="548.4" cy="127.4" r="2.15"/>
<circle cx="550.3" cy="99.2" r="2.15"/>
<circle cx="547.7" cy="113.1" r="2.15"/>
<circle cx="547.8" cy="101.4" r="2.15"/>
<circle cx="549.8" cy="123.6" r="2.15"/>
<circle cx="549.4" cy="111.6" r="2.15"/>
<circle cx="548.1" cy="97.3" r="2.15"/>
<circle cx="547.4" cy="105.0" r="2.15"/>
<circle cx="549.5" cy="105.1" r="2.15"/>
<circle cx="546.9" cy="124.9" r="2.15"/>
<circle cx="549.7" cy="98.4" r="2.15"/>
<circle cx="549.1" cy="120.7" r="2.15"/>
<circle cx="549.2" cy="119.7" r="2.15"/>
<circle cx="546.2" cy="100.5" r="2.15"/>
<circle cx="546.1" cy="105.1" r="2.15"/>
<circle cx="548.4" cy="137.0" r="2.15"/>
<circle cx="550.5" cy="121.5" r="2.15"/>
<circle cx="547.0" cy="128.6" r="2.15"/>
<circle cx="546.4" cy="103.9" r="2.15"/>
<circle cx="549.4" cy="128.2" r="2.15"/>
<circle cx="547.7" cy="111.8" r="2.15"/>
<circle cx="548.2" cy="145.5" r="2.15"/>
<circle cx="550.2" cy="156.1" r="2.15"/>
<circle cx="550.1" cy="159.4" r="2.15"/>
<circle cx="547.9" cy="149.5" r="2.15"/>
<circle cx="550.6" cy="146.5" r="2.15"/>
<circle cx="546.7" cy="143.4" r="2.15"/>
<circle cx="550.3" cy="145.7" r="2.15"/>
<circle cx="547.5" cy="159.5" r="2.15"/>
<circle cx="561.3" cy="95.7" r="2.15"/>
<circle cx="561.4" cy="96.7" r="2.15"/>
<circle cx="560.2" cy="99.0" r="2.15"/>
<circle cx="559.6" cy="105.2" r="2.15"/>
<circle cx="561.1" cy="110.0" r="2.15"/>
<circle cx="560.1" cy="115.8" r="2.15"/>
<circle cx="559.4" cy="118.0" r="2.15"/>
<circle cx="561.4" cy="122.1" r="2.15"/>
<circle cx="560.2" cy="126.0" r="2.15"/>
<circle cx="560.1" cy="132.7" r="2.15"/>
<circle cx="560.6" cy="135.9" r="2.15"/>
<circle cx="578.7" cy="92.4" r="2.15"/>
<circle cx="578.5" cy="101.9" r="2.15"/>
<circle cx="578.8" cy="106.1" r="2.15"/>
<circle cx="578.8" cy="114.6" r="2.15"/>
<circle cx="578.5" cy="127.2" r="2.15"/>
<circle cx="586.0" cy="83.0" r="2.15"/>
<circle cx="586.6" cy="86.5" r="2.15"/>
<circle cx="586.0" cy="92.0" r="2.15"/>
<circle cx="586.5" cy="98.0" r="2.15"/>
<circle cx="586.4" cy="102.5" r="2.15"/>
<circle cx="585.8" cy="104.5" r="2.15"/>
<circle cx="585.5" cy="108.0" r="2.15"/>
<circle cx="586.4" cy="111.0" r="2.15"/>
<circle cx="586.4" cy="112.5" r="2.15"/>
<circle cx="585.9" cy="116.0" r="2.15"/>
<circle cx="585.8" cy="119.5" r="2.15"/>
<circle cx="586.7" cy="121.0" r="2.15"/>
<circle cx="586.8" cy="125.0" r="2.15"/>
<circle cx="585.8" cy="126.5" r="2.15"/>
<circle cx="586.3" cy="131.0" r="2.15"/>
<circle cx="586.3" cy="136.5" r="2.15"/>
<circle cx="586.0" cy="141.0" r="2.15"/>
<circle cx="585.6" cy="144.0" r="2.15"/>
<circle cx="598.9" cy="95.6" r="2.15"/>
<circle cx="599.2" cy="104.0" r="2.15"/>
<circle cx="599.2" cy="108.2" r="2.15"/>
<circle cx="599.1" cy="112.5" r="2.15"/>
<circle cx="598.7" cy="120.9" r="2.15"/>
<circle cx="598.8" cy="123.0" r="2.15"/>
<circle cx="598.9" cy="131.5" r="2.15"/>
<circle cx="599.0" cy="134.6" r="2.15"/>
<circle cx="605.3" cy="111.4" r="2.15"/>
<circle cx="605.7" cy="122.0" r="2.15"/>
<circle cx="605.1" cy="141.0" r="2.15"/>
<circle cx="642.1" cy="99.8" r="2.15"/>
<circle cx="641.5" cy="103.0" r="2.15"/>
<circle cx="642.0" cy="111.4" r="2.15"/>
<circle cx="641.5" cy="115.6" r="2.15"/>
</g>
<line x1="54.6" y1="125.4" x2="217.7" y2="138.2" stroke="#33dd33" stroke-width="1"/>
<line x1="279.6" y1="113.7" x2="444.6" y2="127.3" stroke="#33dd33" stroke-width="1"/>
<line x1="508.7" y1="119.6" x2="671.3" y2="113.6" stroke="#d6bc96" stroke-width="0.95"/>
<line x1="55.00" y1="201.5" x2="55.00" y2="204.9" stroke="#333" stroke-width="1"/>
<text transform="translate(55.00,213.50) scale(1,1.08)" font-size="8.85" fill="#4d4d4d" text-anchor="middle" >0</text>
<line x1="87.60" y1="201.5" x2="87.60" y2="204.9" stroke="#333" stroke-width="1"/>
<text transform="translate(87.60,213.50) scale(1,1.08)" font-size="8.85" fill="#4d4d4d" text-anchor="middle" >10000</text>
<line x1="120.20" y1="201.5" x2="120.20" y2="204.9" stroke="#333" stroke-width="1"/>
<text transform="translate(120.20,213.50) scale(1,1.08)" font-size="8.85" fill="#4d4d4d" text-anchor="middle" >20000</text>
<line x1="152.80" y1="201.5" x2="152.80" y2="204.9" stroke="#333" stroke-width="1"/>
<text transform="translate(152.80,213.50) scale(1,1.08)" font-size="8.85" fill="#4d4d4d" text-anchor="middle" >30000</text>
<line x1="185.40" y1="201.5" x2="185.40" y2="204.9" stroke="#333" stroke-width="1"/>
<text transform="translate(185.40,213.50) scale(1,1.08)" font-size="8.85" fill="#4d4d4d" text-anchor="middle" >40000</text>
<line x1="218.00" y1="201.5" x2="218.00" y2="204.9" stroke="#333" stroke-width="1"/>
<text transform="translate(218.00,213.50) scale(1,1.08)" font-size="8.85" fill="#4d4d4d" text-anchor="middle" >50000</text>
<line x1="44.1" y1="194.00" x2="47.5" y2="194.00" stroke="#333" stroke-width="1"/>
<text transform="translate(42.20,197.55) scale(1,1.08)" font-size="8.85" fill="#4d4d4d" text-anchor="end" >0.0</text>
<line x1="44.1" y1="147.57" x2="47.5" y2="147.57" stroke="#333" stroke-width="1"/>
<text transform="translate(42.20,151.12) scale(1,1.08)" font-size="8.85" fill="#4d4d4d" text-anchor="end" >0.2</text>
<line x1="44.1" y1="101.14" x2="47.5" y2="101.14" stroke="#333" stroke-width="1"/>
<text transform="translate(42.20,104.69) scale(1,1.08)" font-size="8.85" fill="#4d4d4d" text-anchor="end" >0.4</text>
<line x1="44.1" y1="54.71" x2="47.5" y2="54.71" stroke="#333" stroke-width="1"/>
<text transform="translate(42.20,58.26) scale(1,1.08)" font-size="8.85" fill="#4d4d4d" text-anchor="end" >0.6</text>
<text transform="translate(136.50,227.60) scale(1,1.05)" font-size="13.6" fill="#000" text-anchor="middle" >Distance (m)</text>
<text transform="translate(18.90,112.00) rotate(-90) scale(1,1.05)" font-size="13.6" fill="#000" text-anchor="middle" >Similarity</text>
<text transform="translate(-1.50,13.30) scale(1,1.0)" font-size="21" fill="#000" text-anchor="start" font-family="Liberation Serif" font-weight="bold">a.</text>
<line x1="282.30" y1="201.5" x2="282.30" y2="204.9" stroke="#333" stroke-width="1"/>
<text transform="translate(282.30,213.50) scale(1,1.08)" font-size="8.85" fill="#4d4d4d" text-anchor="middle" >0.00</text>
<line x1="330.00" y1="201.5" x2="330.00" y2="204.9" stroke="#333" stroke-width="1"/>
<text transform="translate(330.00,213.50) scale(1,1.08)" font-size="8.85" fill="#4d4d4d" text-anchor="middle" >0.05</text>
<line x1="377.70" y1="201.5" x2="377.70" y2="204.9" stroke="#333" stroke-width="1"/>
<text transform="translate(377.70,213.50) scale(1,1.08)" font-size="8.85" fill="#4d4d4d" text-anchor="middle" >0.10</text>
<line x1="425.40" y1="201.5" x2="425.40" y2="204.9" stroke="#333" stroke-width="1"/>
<text transform="translate(425.40,213.50) scale(1,1.08)" font-size="8.85" fill="#4d4d4d" text-anchor="middle" >0.15</text>
<line x1="271.1" y1="194.00" x2="274.5" y2="194.00" stroke="#333" stroke-width="1"/>
<text transform="translate(269.20,197.55) scale(1,1.08)" font-size="8.85" fill="#4d4d4d" text-anchor="end" >0.0</text>
<line x1="271.1" y1="139.80" x2="274.5" y2="139.80" stroke="#333" stroke-width="1"/>
<text transform="translate(269.20,143.35) scale(1,1.08)" font-size="8.85" fill="#4d4d4d" text-anchor="end" >0.2</text>
<line x1="271.1" y1="85.60" x2="274.5" y2="85.60" stroke="#333" stroke-width="1"/>
<text transform="translate(269.20,89.15) scale(1,1.08)" font-size="8.85" fill="#4d4d4d" text-anchor="end" >0.4</text>
<line x1="271.1" y1="31.40" x2="274.5" y2="31.40" stroke="#333" stroke-width="1"/>
<text transform="translate(269.20,34.95) scale(1,1.08)" font-size="8.85" fill="#4d4d4d" text-anchor="end" >0.6</text>
<text transform="translate(363.00,227.60) scale(1,1.05)" font-size="13.6" fill="#000" text-anchor="middle" >Genetic Distance</text>
<text transform="translate(246.10,112.00) rotate(-90) scale(1,1.05)" font-size="13.6" fill="#000" text-anchor="middle" >Similarity</text>
<text transform="translate(231.00,13.30) scale(1,1.0)" font-size="21" fill="#000" text-anchor="start" font-family="Liberation Serif" font-weight="bold">b.</text>
<line x1="508.85" y1="201.5" x2="508.85" y2="204.9" stroke="#333" stroke-width="1"/>
<text transform="translate(508.85,213.50) scale(1,1.08)" font-size="8.85" fill="#4d4d4d" text-anchor="middle" >0</text>
<line x1="541.40" y1="201.5" x2="541.40" y2="204.9" stroke="#333" stroke-width="1"/>
<text transform="translate(541.40,213.50) scale(1,1.08)" font-size="8.85" fill="#4d4d4d" text-anchor="middle" >10000</text>
<line x1="573.95" y1="201.5" x2="573.95" y2="204.9" stroke="#333" stroke-width="1"/>
<text transform="translate(573.95,213.50) scale(1,1.08)" font-size="8.85" fill="#4d4d4d" text-anchor="middle" >20000</text>
<line x1="606.50" y1="201.5" x2="606.50" y2="204.9" stroke="#333" stroke-width="1"/>
<text transform="translate(606.50,213.50) scale(1,1.08)" font-size="8.85" fill="#4d4d4d" text-anchor="middle" >30000</text>
<line x1="639.05" y1="201.5" x2="639.05" y2="204.9" stroke="#333" stroke-width="1"/>
<text transform="translate(639.05,213.50) scale(1,1.08)" font-size="8.85" fill="#4d4d4d" text-anchor="middle" >40000</text>
<line x1="671.60" y1="201.5" x2="671.60" y2="204.9" stroke="#333" stroke-width="1"/>
<text transform="translate(671.60,213.50) scale(1,1.08)" font-size="8.85" fill="#4d4d4d" text-anchor="middle" >50000</text>
<line x1="498.1" y1="194.00" x2="501.5" y2="194.00" stroke="#333" stroke-width="1"/>
<text transform="translate(496.20,197.55) scale(1,1.08)" font-size="8.85" fill="#4d4d4d" text-anchor="end" >0.0</text>
<line x1="498.1" y1="147.57" x2="501.5" y2="147.57" stroke="#333" stroke-width="1"/>
<text transform="translate(496.20,151.12) scale(1,1.08)" font-size="8.85" fill="#4d4d4d" text-anchor="end" >0.2</text>
<line x1="498.1" y1="101.14" x2="501.5" y2="101.14" stroke="#333" stroke-width="1"/>
<text transform="translate(496.20,104.69) scale(1,1.08)" font-size="8.85" fill="#4d4d4d" text-anchor="end" >0.4</text>
<line x1="498.1" y1="54.71" x2="501.5" y2="54.71" stroke="#333" stroke-width="1"/>
<text transform="translate(496.20,58.26) scale(1,1.08)" font-size="8.85" fill="#4d4d4d" text-anchor="end" >0.6</text>
<text transform="translate(590.50,227.60) scale(1,1.05)" font-size="13.6" fill="#000" text-anchor="middle" >Distance (m)</text>
<text transform="translate(473.10,112.00) rotate(-90) scale(1,1.05)" font-size="13.6" fill="#000" text-anchor="middle" >Similarity</text>
<text transform="translate(460.60,13.30) scale(1,1.0)" font-size="21" fill="#000" text-anchor="start" font-family="Liberation Serif" font-weight="bold">c.</text>
<line x1="47.5" y1="338.2" x2="225.7" y2="338.2" stroke="#e63a2c" stroke-width="1.35" stroke-dasharray="3.85 3.85" stroke-dashoffset="0.65"/>
<polyline points="54.5,295.6 57.1,305.6 68.3,302.3 89.6,361.1 112.5,346.3 136.3,318.6 159.7,388.1 218.1,349.7" fill="none" stroke="#11f011" stroke-width="1.1"/>
<circle cx="54.5" cy="295.6" r="3.5" fill="#11f011"/>
<circle cx="57.1" cy="305.6" r="3.5" fill="#11f011"/>
<circle cx="68.3" cy="302.3" r="3.5" fill="#11f011"/>
<circle cx="89.6" cy="361.1" r="3.1" fill="none" stroke="#11f011" stroke-width="0.8"/>
<circle cx="112.5" cy="346.3" r="3.1" fill="none" stroke="#11f011" stroke-width="0.8"/>
<circle cx="136.3" cy="318.6" r="3.1" fill="none" stroke="#11f011" stroke-width="0.8"/>
<circle cx="159.7" cy="388.1" r="3.1" fill="none" stroke="#11f011" stroke-width="0.8"/>
<circle cx="218.1" cy="349.7" r="3.1" fill="none" stroke="#11f011" stroke-width="0.8"/>
<line x1="274.6" y1="353.1" x2="453.0" y2="353.1" stroke="#e63a2c" stroke-width="1.35" stroke-dasharray="3.85 3.85" stroke-dashoffset="0.65"/>
<polyline points="281.6,279.4 309.7,374.1 360.3,387.5 444.6,394.4" fill="none" stroke="#11f011" stroke-width="1.1"/>
<circle cx="281.6" cy="279.4" r="3.5" fill="#11f011"/>
<circle cx="309.7" cy="374.1" r="3.1" fill="none" stroke="#11f011" stroke-width="0.8"/>
<circle cx="360.3" cy="387.5" r="3.1" fill="none" stroke="#11f011" stroke-width="0.8"/>
<circle cx="444.6" cy="394.4" r="3.1" fill="none" stroke="#11f011" stroke-width="0.8"/>
<line x1="501.5" y1="338.2" x2="679.6" y2="338.2" stroke="#e63a2c" stroke-width="1.35" stroke-dasharray="3.85 3.85" stroke-dashoffset="0.65"/>
<polyline points="508.8,336.0 511.4,297.1 522.6,401.8 543.9,303.9 566.8,376.9 590.6,353.2 614.0,301.2 672.4,334.9" fill="none" stroke="#d6bb94" stroke-width="1.0"/>
<circle cx="508.8" cy="336.0" r="3.1" fill="none" stroke="#d6bb94" stroke-width="0.8"/>
<circle cx="511.4" cy="297.1" r="3.1" fill="none" stroke="#d6bb94" stroke-width="0.8"/>
<circle cx="522.6" cy="401.8" r="3.1" fill="none" stroke="#d6bb94" stroke-width="0.8"/>
<circle cx="543.9" cy="303.9" r="3.1" fill="none" stroke="#d6bb94" stroke-width="0.8"/>
<circle cx="566.8" cy="376.9" r="3.1" fill="none" stroke="#d6bb94" stroke-width="0.8"/>
<circle cx="590.6" cy="353.2" r="3.1" fill="none" stroke="#d6bb94" stroke-width="0.8"/>
<circle cx="614.0" cy="301.2" r="3.1" fill="none" stroke="#d6bb94" stroke-width="0.8"/>
<circle cx="672.4" cy="334.9" r="3.1" fill="none" stroke="#d6bb94" stroke-width="0.8"/>
<line x1="54.50" y1="419.5" x2="54.50" y2="422.9" stroke="#333" stroke-width="1"/>
<text transform="translate(54.50,430.90) scale(1,1.08)" font-size="8.85" fill="#4d4d4d" text-anchor="middle" >0</text>
<line x1="101.25" y1="419.5" x2="101.25" y2="422.9" stroke="#333" stroke-width="1"/>
<text transform="translate(101.25,430.90) scale(1,1.08)" font-size="8.85" fill="#4d4d4d" text-anchor="middle" >10000</text>
<line x1="148.00" y1="419.5" x2="148.00" y2="422.9" stroke="#333" stroke-width="1"/>
<text transform="translate(148.00,430.90) scale(1,1.08)" font-size="8.85" fill="#4d4d4d" text-anchor="middle" >20000</text>
<line x1="194.75" y1="419.5" x2="194.75" y2="422.9" stroke="#333" stroke-width="1"/>
<text transform="translate(194.75,430.90) scale(1,1.08)" font-size="8.85" fill="#4d4d4d" text-anchor="middle" >30000</text>
<line x1="44.1" y1="412.20" x2="47.5" y2="412.20" stroke="#333" stroke-width="1"/>
<text transform="translate(42.20,415.75) scale(1,1.08)" font-size="8.85" fill="#4d4d4d" text-anchor="end" >-0.2</text>
<line x1="44.1" y1="375.20" x2="47.5" y2="375.20" stroke="#333" stroke-width="1"/>
<text transform="translate(42.20,378.75) scale(1,1.08)" font-size="8.85" fill="#4d4d4d" text-anchor="end" >-0.1</text>
<line x1="44.1" y1="338.20" x2="47.5" y2="338.20" stroke="#333" stroke-width="1"/>
<text transform="translate(42.20,341.75) scale(1,1.08)" font-size="8.85" fill="#4d4d4d" text-anchor="end" >0.0</text>
<line x1="44.1" y1="301.20" x2="47.5" y2="301.20" stroke="#333" stroke-width="1"/>
<text transform="translate(42.20,304.75) scale(1,1.08)" font-size="8.85" fill="#4d4d4d" text-anchor="end" >0.1</text>
<line x1="44.1" y1="264.20" x2="47.5" y2="264.20" stroke="#333" stroke-width="1"/>
<text transform="translate(42.20,267.75) scale(1,1.08)" font-size="8.85" fill="#4d4d4d" text-anchor="end" >0.2</text>
<text transform="translate(136.50,445.20) scale(1,1.05)" font-size="13.6" fill="#000" text-anchor="middle" >Distance Class (m)</text>
<text transform="translate(19.30,338.30) rotate(-90) scale(1,1.05)" font-size="13.6" fill="#000" text-anchor="middle" >Mantel Correlation</text>
<text transform="translate(-1.60,250.70) scale(1,1.0)" font-size="21" fill="#000" text-anchor="start" font-family="Liberation Serif" font-weight="bold">d.</text>
<line x1="276.00" y1="419.5" x2="276.00" y2="422.9" stroke="#333" stroke-width="1"/>
<text transform="translate(276.00,430.90) scale(1,1.08)" font-size="8.85" fill="#4d4d4d" text-anchor="middle" >0.00</text>
<line x1="332.20" y1="419.5" x2="332.20" y2="422.9" stroke="#333" stroke-width="1"/>
<text transform="translate(332.20,430.90) scale(1,1.08)" font-size="8.85" fill="#4d4d4d" text-anchor="middle" >0.05</text>
<line x1="388.40" y1="419.5" x2="388.40" y2="422.9" stroke="#333" stroke-width="1"/>
<text transform="translate(388.40,430.90) scale(1,1.08)" font-size="8.85" fill="#4d4d4d" text-anchor="middle" >0.10</text>
<line x1="444.60" y1="419.5" x2="444.60" y2="422.9" stroke="#333" stroke-width="1"/>
<text transform="translate(444.60,430.90) scale(1,1.08)" font-size="8.85" fill="#4d4d4d" text-anchor="middle" >0.15</text>
<line x1="271.20000000000005" y1="412.34" x2="274.6" y2="412.34" stroke="#333" stroke-width="1"/>
<text transform="translate(269.30,415.89) scale(1,1.08)" font-size="8.85" fill="#4d4d4d" text-anchor="end" >-0.2</text>
<line x1="271.20000000000005" y1="382.72" x2="274.6" y2="382.72" stroke="#333" stroke-width="1"/>
<text transform="translate(269.30,386.27) scale(1,1.08)" font-size="8.85" fill="#4d4d4d" text-anchor="end" >-0.1</text>
<line x1="271.20000000000005" y1="353.10" x2="274.6" y2="353.10" stroke="#333" stroke-width="1"/>
<text transform="translate(269.30,356.65) scale(1,1.08)" font-size="8.85" fill="#4d4d4d" text-anchor="end" >0.0</text>
<line x1="271.20000000000005" y1="323.48" x2="274.6" y2="323.48" stroke="#333" stroke-width="1"/>
<text transform="translate(269.30,327.03) scale(1,1.08)" font-size="8.85" fill="#4d4d4d" text-anchor="end" >0.1</text>
<line x1="271.20000000000005" y1="293.86" x2="274.6" y2="293.86" stroke="#333" stroke-width="1"/>
<text transform="translate(269.30,297.41) scale(1,1.08)" font-size="8.85" fill="#4d4d4d" text-anchor="end" >0.2</text>
<line x1="271.20000000000005" y1="264.24" x2="274.6" y2="264.24" stroke="#333" stroke-width="1"/>
<text transform="translate(269.30,267.79) scale(1,1.08)" font-size="8.85" fill="#4d4d4d" text-anchor="end" >0.3</text>
<text transform="translate(363.50,445.20) scale(1,1.05)" font-size="13.6" fill="#000" text-anchor="middle" >Genetic Distance Class</text>
<text transform="translate(246.80,338.30) rotate(-90) scale(1,1.05)" font-size="13.6" fill="#000" text-anchor="middle" >Mantel Correlation</text>
<text transform="translate(230.60,250.70) scale(1,1.0)" font-size="21" fill="#000" text-anchor="start" font-family="Liberation Serif" font-weight="bold">e.</text>
<line x1="508.80" y1="419.5" x2="508.80" y2="422.9" stroke="#333" stroke-width="1"/>
<text transform="translate(508.80,430.90) scale(1,1.08)" font-size="8.85" fill="#4d4d4d" text-anchor="middle" >0</text>
<line x1="555.55" y1="419.5" x2="555.55" y2="422.9" stroke="#333" stroke-width="1"/>
<text transform="translate(555.55,430.90) scale(1,1.08)" font-size="8.85" fill="#4d4d4d" text-anchor="middle" >10000</text>
<line x1="602.30" y1="419.5" x2="602.30" y2="422.9" stroke="#333" stroke-width="1"/>
<text transform="translate(602.30,430.90) scale(1,1.08)" font-size="8.85" fill="#4d4d4d" text-anchor="middle" >20000</text>
<line x1="649.05" y1="419.5" x2="649.05" y2="422.9" stroke="#333" stroke-width="1"/>
<text transform="translate(649.05,430.90) scale(1,1.08)" font-size="8.85" fill="#4d4d4d" text-anchor="middle" >30000</text>
<line x1="498.1" y1="412.20" x2="501.5" y2="412.20" stroke="#333" stroke-width="1"/>
<text transform="translate(496.20,415.75) scale(1,1.08)" font-size="8.85" fill="#4d4d4d" text-anchor="end" >-0.2</text>
<line x1="498.1" y1="375.20" x2="501.5" y2="375.20" stroke="#333" stroke-width="1"/>
<text transform="translate(496.20,378.75) scale(1,1.08)" font-size="8.85" fill="#4d4d4d" text-anchor="end" >-0.1</text>
<line x1="498.1" y1="338.20" x2="501.5" y2="338.20" stroke="#333" stroke-width="1"/>
<text transform="translate(496.20,341.75) scale(1,1.08)" font-size="8.85" fill="#4d4d4d" text-anchor="end" >0.0</text>
<line x1="498.1" y1="301.20" x2="501.5" y2="301.20" stroke="#333" stroke-width="1"/>
<text transform="translate(496.20,304.75) scale(1,1.08)" font-size="8.85" fill="#4d4d4d" text-anchor="end" >0.1</text>
<line x1="498.1" y1="264.20" x2="501.5" y2="264.20" stroke="#333" stroke-width="1"/>
<text transform="translate(496.20,267.75) scale(1,1.08)" font-size="8.85" fill="#4d4d4d" text-anchor="end" >0.2</text>
<text transform="translate(590.50,445.20) scale(1,1.05)" font-size="13.6" fill="#000" text-anchor="middle" >Distance Class (m)</text>
<text transform="translate(473.30,338.30) rotate(-90) scale(1,1.05)" font-size="13.6" fill="#000" text-anchor="middle" >Mantel Correlation</text>
<text transform="translate(458.60,250.70) scale(1,1.0)" font-size="21" fill="#000" text-anchor="start" font-family="Liberation Serif" font-weight="bold">f.</text>
<rect x="47.5" y="23.6" width="178.00" height="177.90" fill="none" stroke="#333" stroke-width="1.25"/>
<rect x="274.5" y="23.6" width="178.00" height="177.90" fill="none" stroke="#333" stroke-width="1.25"/>
<rect x="501.5" y="23.6" width="178.00" height="177.90" fill="none" stroke="#333" stroke-width="1.25"/>
<rect x="47.5" y="257.5" width="178.20" height="162.00" fill="none" stroke="#333" stroke-width="1.25"/>
<rect x="274.6" y="257.5" width="178.40" height="162.00" fill="none" stroke="#333" stroke-width="1.25"/>
<rect x="501.5" y="257.5" width="178.10" height="162.00" fill="none" stroke="#333" stroke-width="1.25"/>
<ellipse cx="105.6" cy="484.9" rx="3.55" ry="3.8" fill="#00f500"/>
<text transform="translate(129.20,489.60) scale(1,1.04)" font-size="14.55" fill="#111" text-anchor="start" >full salamander microbiota</text>
<ellipse cx="371.8" cy="484.4" rx="3.5" ry="3.6" fill="#d2b48c"/>
<text transform="translate(395.50,489.60) scale(1,1.04)" font-size="14.55" fill="#111" text-anchor="start" >full crevice microbiota</text></svg>
</body></html>
